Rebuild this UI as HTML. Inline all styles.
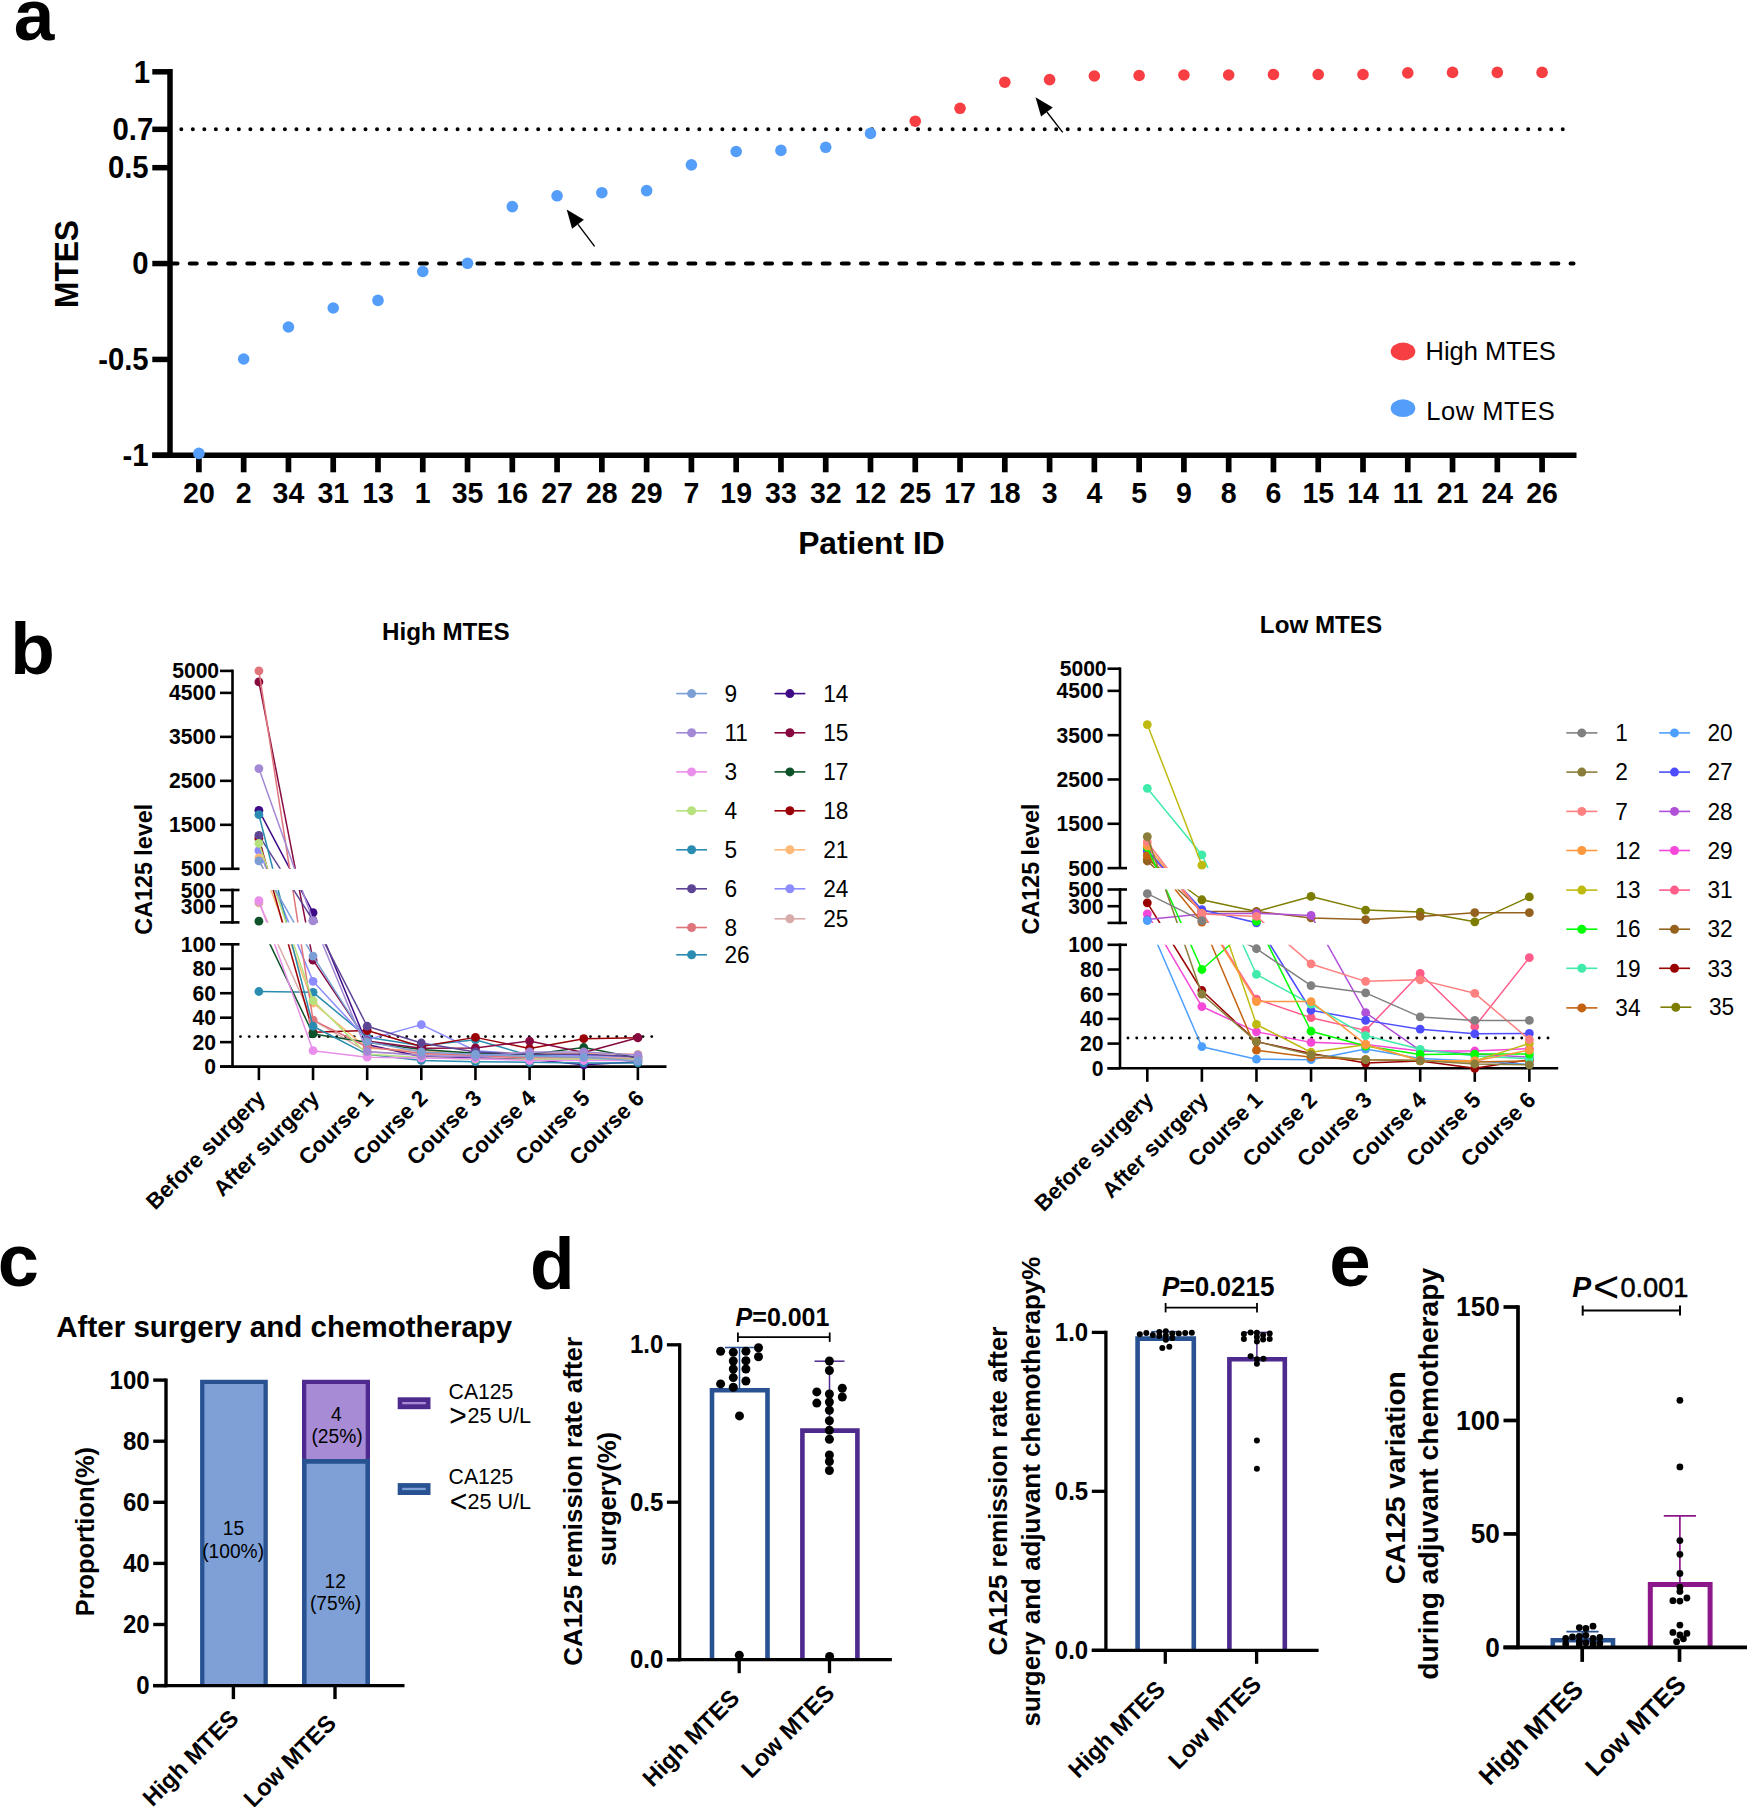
<!DOCTYPE html>
<html lang="en">
<head>
<meta charset="utf-8">
<title>MTES figure</title>
<style>
html,body{margin:0;padding:0;background:#fff;}
body{width:1747px;height:1807px;overflow:hidden;}
svg{display:block;font-family:"Liberation Sans",Arial,Helvetica,sans-serif;}
</style>
</head>
<body>
<svg width="1747" height="1807" viewBox="0 0 1747 1807">
<rect x="0" y="0" width="1747" height="1807" fill="#ffffff"/>
<g id="panel-a">
<text transform="translate(13.7 39.6) scale(1 1)" font-size="73" font-weight="bold" text-anchor="start" fill="#000">a</text>
<line x1="170" y1="69.1" x2="170" y2="458.05" stroke="#000" stroke-width="5.5"/>
<line x1="152.3" y1="455.3" x2="1576.5" y2="455.3" stroke="#000" stroke-width="5.5"/>
<line x1="152.3" y1="71.8" x2="170" y2="71.8" stroke="#000" stroke-width="5.5"/>
<text transform="translate(150 82.5) scale(1 1.04)" font-size="29.3" font-weight="bold" text-anchor="end" fill="#000">1</text>
<line x1="152.3" y1="129.33" x2="170" y2="129.33" stroke="#000" stroke-width="5.5"/>
<text transform="translate(153.2 140.03) scale(1 1.04)" font-size="29.3" font-weight="bold" text-anchor="end" fill="#000">0.7</text>
<line x1="152.3" y1="167.68" x2="170" y2="167.68" stroke="#000" stroke-width="5.5"/>
<text transform="translate(148.6 178.38) scale(1 1.04)" font-size="29.3" font-weight="bold" text-anchor="end" fill="#000">0.5</text>
<line x1="152.3" y1="263.55" x2="170" y2="263.55" stroke="#000" stroke-width="5.5"/>
<text transform="translate(148.6 274.25) scale(1 1.04)" font-size="29.3" font-weight="bold" text-anchor="end" fill="#000">0</text>
<line x1="152.3" y1="359.43" x2="170" y2="359.43" stroke="#000" stroke-width="5.5"/>
<text transform="translate(148.6 370.12) scale(1 1.04)" font-size="29.3" font-weight="bold" text-anchor="end" fill="#000">-0.5</text>
<line x1="152.3" y1="455.3" x2="170" y2="455.3" stroke="#000" stroke-width="5.5"/>
<text transform="translate(148.6 466) scale(1 1.04)" font-size="29.3" font-weight="bold" text-anchor="end" fill="#000">-1</text>
<line x1="181.3" y1="129.33" x2="1566.5" y2="129.33" stroke="#000" stroke-width="4" stroke-dasharray="0 11.512" stroke-linecap="round"/>
<line x1="170.62" y1="263.55" x2="1573.5" y2="263.55" stroke="#000" stroke-width="4.1" stroke-dasharray="6.9 12.278" stroke-linecap="round"/>
<line x1="198.9" y1="455.3" x2="198.9" y2="472.3" stroke="#000" stroke-width="5.7"/>
<text transform="translate(198.9 502.6) scale(1 1.04)" font-size="28.5" font-weight="bold" text-anchor="middle" fill="#000">20</text>
<line x1="243.67" y1="455.3" x2="243.67" y2="472.3" stroke="#000" stroke-width="5.7"/>
<text transform="translate(243.67 502.6) scale(1 1.04)" font-size="28.5" font-weight="bold" text-anchor="middle" fill="#000">2</text>
<line x1="288.45" y1="455.3" x2="288.45" y2="472.3" stroke="#000" stroke-width="5.7"/>
<text transform="translate(288.45 502.6) scale(1 1.04)" font-size="28.5" font-weight="bold" text-anchor="middle" fill="#000">34</text>
<line x1="333.22" y1="455.3" x2="333.22" y2="472.3" stroke="#000" stroke-width="5.7"/>
<text transform="translate(333.22 502.6) scale(1 1.04)" font-size="28.5" font-weight="bold" text-anchor="middle" fill="#000">31</text>
<line x1="377.99" y1="455.3" x2="377.99" y2="472.3" stroke="#000" stroke-width="5.7"/>
<text transform="translate(377.99 502.6) scale(1 1.04)" font-size="28.5" font-weight="bold" text-anchor="middle" fill="#000">13</text>
<line x1="422.76" y1="455.3" x2="422.76" y2="472.3" stroke="#000" stroke-width="5.7"/>
<text transform="translate(422.76 502.6) scale(1 1.04)" font-size="28.5" font-weight="bold" text-anchor="middle" fill="#000">1</text>
<line x1="467.54" y1="455.3" x2="467.54" y2="472.3" stroke="#000" stroke-width="5.7"/>
<text transform="translate(467.54 502.6) scale(1 1.04)" font-size="28.5" font-weight="bold" text-anchor="middle" fill="#000">35</text>
<line x1="512.31" y1="455.3" x2="512.31" y2="472.3" stroke="#000" stroke-width="5.7"/>
<text transform="translate(512.31 502.6) scale(1 1.04)" font-size="28.5" font-weight="bold" text-anchor="middle" fill="#000">16</text>
<line x1="557.08" y1="455.3" x2="557.08" y2="472.3" stroke="#000" stroke-width="5.7"/>
<text transform="translate(557.08 502.6) scale(1 1.04)" font-size="28.5" font-weight="bold" text-anchor="middle" fill="#000">27</text>
<line x1="601.86" y1="455.3" x2="601.86" y2="472.3" stroke="#000" stroke-width="5.7"/>
<text transform="translate(601.86 502.6) scale(1 1.04)" font-size="28.5" font-weight="bold" text-anchor="middle" fill="#000">28</text>
<line x1="646.63" y1="455.3" x2="646.63" y2="472.3" stroke="#000" stroke-width="5.7"/>
<text transform="translate(646.63 502.6) scale(1 1.04)" font-size="28.5" font-weight="bold" text-anchor="middle" fill="#000">29</text>
<line x1="691.4" y1="455.3" x2="691.4" y2="472.3" stroke="#000" stroke-width="5.7"/>
<text transform="translate(691.4 502.6) scale(1 1.04)" font-size="28.5" font-weight="bold" text-anchor="middle" fill="#000">7</text>
<line x1="736.18" y1="455.3" x2="736.18" y2="472.3" stroke="#000" stroke-width="5.7"/>
<text transform="translate(736.18 502.6) scale(1 1.04)" font-size="28.5" font-weight="bold" text-anchor="middle" fill="#000">19</text>
<line x1="780.95" y1="455.3" x2="780.95" y2="472.3" stroke="#000" stroke-width="5.7"/>
<text transform="translate(780.95 502.6) scale(1 1.04)" font-size="28.5" font-weight="bold" text-anchor="middle" fill="#000">33</text>
<line x1="825.72" y1="455.3" x2="825.72" y2="472.3" stroke="#000" stroke-width="5.7"/>
<text transform="translate(825.72 502.6) scale(1 1.04)" font-size="28.5" font-weight="bold" text-anchor="middle" fill="#000">32</text>
<line x1="870.5" y1="455.3" x2="870.5" y2="472.3" stroke="#000" stroke-width="5.7"/>
<text transform="translate(870.5 502.6) scale(1 1.04)" font-size="28.5" font-weight="bold" text-anchor="middle" fill="#000">12</text>
<line x1="915.27" y1="455.3" x2="915.27" y2="472.3" stroke="#000" stroke-width="5.7"/>
<text transform="translate(915.27 502.6) scale(1 1.04)" font-size="28.5" font-weight="bold" text-anchor="middle" fill="#000">25</text>
<line x1="960.04" y1="455.3" x2="960.04" y2="472.3" stroke="#000" stroke-width="5.7"/>
<text transform="translate(960.04 502.6) scale(1 1.04)" font-size="28.5" font-weight="bold" text-anchor="middle" fill="#000">17</text>
<line x1="1004.81" y1="455.3" x2="1004.81" y2="472.3" stroke="#000" stroke-width="5.7"/>
<text transform="translate(1004.81 502.6) scale(1 1.04)" font-size="28.5" font-weight="bold" text-anchor="middle" fill="#000">18</text>
<line x1="1049.59" y1="455.3" x2="1049.59" y2="472.3" stroke="#000" stroke-width="5.7"/>
<text transform="translate(1049.59 502.6) scale(1 1.04)" font-size="28.5" font-weight="bold" text-anchor="middle" fill="#000">3</text>
<line x1="1094.36" y1="455.3" x2="1094.36" y2="472.3" stroke="#000" stroke-width="5.7"/>
<text transform="translate(1094.36 502.6) scale(1 1.04)" font-size="28.5" font-weight="bold" text-anchor="middle" fill="#000">4</text>
<line x1="1139.13" y1="455.3" x2="1139.13" y2="472.3" stroke="#000" stroke-width="5.7"/>
<text transform="translate(1139.13 502.6) scale(1 1.04)" font-size="28.5" font-weight="bold" text-anchor="middle" fill="#000">5</text>
<line x1="1183.91" y1="455.3" x2="1183.91" y2="472.3" stroke="#000" stroke-width="5.7"/>
<text transform="translate(1183.91 502.6) scale(1 1.04)" font-size="28.5" font-weight="bold" text-anchor="middle" fill="#000">9</text>
<line x1="1228.68" y1="455.3" x2="1228.68" y2="472.3" stroke="#000" stroke-width="5.7"/>
<text transform="translate(1228.68 502.6) scale(1 1.04)" font-size="28.5" font-weight="bold" text-anchor="middle" fill="#000">8</text>
<line x1="1273.45" y1="455.3" x2="1273.45" y2="472.3" stroke="#000" stroke-width="5.7"/>
<text transform="translate(1273.45 502.6) scale(1 1.04)" font-size="28.5" font-weight="bold" text-anchor="middle" fill="#000">6</text>
<line x1="1318.23" y1="455.3" x2="1318.23" y2="472.3" stroke="#000" stroke-width="5.7"/>
<text transform="translate(1318.23 502.6) scale(1 1.04)" font-size="28.5" font-weight="bold" text-anchor="middle" fill="#000">15</text>
<line x1="1363" y1="455.3" x2="1363" y2="472.3" stroke="#000" stroke-width="5.7"/>
<text transform="translate(1363 502.6) scale(1 1.04)" font-size="28.5" font-weight="bold" text-anchor="middle" fill="#000">14</text>
<line x1="1407.77" y1="455.3" x2="1407.77" y2="472.3" stroke="#000" stroke-width="5.7"/>
<text transform="translate(1407.77 502.6) scale(1 1.04)" font-size="28.5" font-weight="bold" text-anchor="middle" fill="#000">11</text>
<line x1="1452.54" y1="455.3" x2="1452.54" y2="472.3" stroke="#000" stroke-width="5.7"/>
<text transform="translate(1452.54 502.6) scale(1 1.04)" font-size="28.5" font-weight="bold" text-anchor="middle" fill="#000">21</text>
<line x1="1497.32" y1="455.3" x2="1497.32" y2="472.3" stroke="#000" stroke-width="5.7"/>
<text transform="translate(1497.32 502.6) scale(1 1.04)" font-size="28.5" font-weight="bold" text-anchor="middle" fill="#000">24</text>
<line x1="1542.09" y1="455.3" x2="1542.09" y2="472.3" stroke="#000" stroke-width="5.7"/>
<text transform="translate(1542.09 502.6) scale(1 1.04)" font-size="28.5" font-weight="bold" text-anchor="middle" fill="#000">26</text>
<circle cx="198.9" cy="453.4" r="5.8" fill="#549efa"/>
<circle cx="243.67" cy="359" r="5.8" fill="#549efa"/>
<circle cx="288.45" cy="327" r="5.8" fill="#549efa"/>
<circle cx="333.22" cy="308" r="5.8" fill="#549efa"/>
<circle cx="377.99" cy="300.4" r="5.8" fill="#549efa"/>
<circle cx="422.76" cy="271.5" r="5.8" fill="#549efa"/>
<circle cx="467.54" cy="263.3" r="5.8" fill="#549efa"/>
<circle cx="512.31" cy="206.6" r="5.8" fill="#549efa"/>
<circle cx="557.08" cy="195.8" r="5.8" fill="#549efa"/>
<circle cx="601.86" cy="192.7" r="5.8" fill="#549efa"/>
<circle cx="646.63" cy="190.6" r="5.8" fill="#549efa"/>
<circle cx="691.4" cy="164.9" r="5.8" fill="#549efa"/>
<circle cx="736.18" cy="151.5" r="5.8" fill="#549efa"/>
<circle cx="780.95" cy="150.4" r="5.8" fill="#549efa"/>
<circle cx="825.72" cy="147.3" r="5.8" fill="#549efa"/>
<circle cx="870.5" cy="133.4" r="5.8" fill="#549efa"/>
<circle cx="915.27" cy="121.2" r="5.8" fill="#f73e42"/>
<circle cx="960.04" cy="108.3" r="5.8" fill="#f73e42"/>
<circle cx="1004.81" cy="82.2" r="5.8" fill="#f73e42"/>
<circle cx="1049.59" cy="79.6" r="5.8" fill="#f73e42"/>
<circle cx="1094.36" cy="76" r="5.8" fill="#f73e42"/>
<circle cx="1139.13" cy="75.5" r="5.8" fill="#f73e42"/>
<circle cx="1183.91" cy="75" r="5.8" fill="#f73e42"/>
<circle cx="1228.68" cy="75" r="5.8" fill="#f73e42"/>
<circle cx="1273.45" cy="74.5" r="5.8" fill="#f73e42"/>
<circle cx="1318.23" cy="74.5" r="5.8" fill="#f73e42"/>
<circle cx="1363" cy="74.5" r="5.8" fill="#f73e42"/>
<circle cx="1407.77" cy="72.9" r="5.8" fill="#f73e42"/>
<circle cx="1452.54" cy="72.4" r="5.8" fill="#f73e42"/>
<circle cx="1497.32" cy="72.4" r="5.8" fill="#f73e42"/>
<circle cx="1542.09" cy="72.4" r="5.8" fill="#f73e42"/>
<text transform="translate(871.4 553.9) scale(1 1.01)" font-size="31.8" font-weight="bold" text-anchor="middle" fill="#000">Patient ID</text>
<text transform="translate(77.8 264) rotate(-90) scale(1 1.04)" font-size="31.7" font-weight="bold" text-anchor="middle">MTES</text>
<ellipse cx="1403" cy="351.5" rx="12.3" ry="8.9" fill="#f73e42"/>
<ellipse cx="1403" cy="408.2" rx="12.3" ry="8.9" fill="#549efa"/>
<text transform="translate(1425.5 360.3) scale(1 1.01)" font-size="25.5" font-weight="normal" text-anchor="start" fill="#000">High MTES</text>
<text transform="translate(1426.2 420.1) scale(1 1.01)" font-size="25.5" font-weight="normal" text-anchor="start" fill="#000" textLength="128.6" lengthAdjust="spacing">Low MTES</text>
<line x1="594.6" y1="246.3" x2="577.98" y2="224.32" stroke="#000" stroke-width="1.4"/>
<polygon points="566.7,209.4 583.88,219.85 572.08,228.78" fill="#000"/>
<line x1="1062.7" y1="132.4" x2="1046.93" y2="112" stroke="#000" stroke-width="1.4"/>
<polygon points="1035.5,97.2 1052.79,107.47 1041.08,116.52" fill="#000"/>
</g>
<g id="panel-b">
<text transform="translate(10.3 674.2) scale(1 1)" font-size="73" font-weight="bold" text-anchor="start" fill="#000">b</text>
<defs>
<clipPath id="htmb"><rect x="232.5" y="662.9" width="454" height="205.9"/><rect x="232.5" y="890" width="454" height="32.4"/><rect x="232.5" y="944.3" width="454" height="130.3"/></clipPath>
<clipPath id="htb"><rect x="232.5" y="662.9" width="454" height="205.9"/><rect x="232.5" y="944.3" width="454" height="130.3"/></clipPath>
<clipPath id="htm"><rect x="232.5" y="662.9" width="454" height="205.9"/><rect x="232.5" y="890" width="454" height="32.4"/></clipPath>
<clipPath id="hmb"><rect x="232.5" y="890" width="454" height="32.4"/><rect x="232.5" y="944.3" width="454" height="130.3"/></clipPath>
<clipPath id="ht"><rect x="232.5" y="662.9" width="454" height="205.9"/></clipPath>
<clipPath id="hm"><rect x="232.5" y="890" width="454" height="32.4"/></clipPath>
<clipPath id="hb"><rect x="232.5" y="944.3" width="454" height="130.3"/></clipPath>
</defs>
<text transform="translate(445.8 640.2) scale(1 1.01)" font-size="24.2" font-weight="bold" text-anchor="middle" fill="#000">High MTES</text>
<text transform="translate(151.8 869.25) rotate(-90) scale(1 1.01)" font-size="23.3" font-weight="bold" text-anchor="middle">CA125 level</text>
<line x1="232.5" y1="669.6" x2="232.5" y2="868.8" stroke="#000" stroke-width="2.6"/>
<line x1="232.5" y1="888.7" x2="232.5" y2="923.7" stroke="#000" stroke-width="2.6"/>
<line x1="232.5" y1="943" x2="232.5" y2="1066.6" stroke="#000" stroke-width="2.6"/>
<line x1="220" y1="670.9" x2="232.5" y2="670.9" stroke="#000" stroke-width="2.6"/>
<text transform="translate(219.1 678.4) scale(1 1.04)" font-size="21.1" font-weight="bold" text-anchor="end" fill="#000">5000</text>
<line x1="220" y1="692.89" x2="232.5" y2="692.89" stroke="#000" stroke-width="2.6"/>
<text transform="translate(215.9 700.39) scale(1 1.04)" font-size="21.1" font-weight="bold" text-anchor="end" fill="#000">4500</text>
<line x1="220" y1="736.87" x2="232.5" y2="736.87" stroke="#000" stroke-width="2.6"/>
<text transform="translate(215.9 744.37) scale(1 1.04)" font-size="21.1" font-weight="bold" text-anchor="end" fill="#000">3500</text>
<line x1="220" y1="780.84" x2="232.5" y2="780.84" stroke="#000" stroke-width="2.6"/>
<text transform="translate(215.9 788.34) scale(1 1.04)" font-size="21.1" font-weight="bold" text-anchor="end" fill="#000">2500</text>
<line x1="220" y1="824.82" x2="232.5" y2="824.82" stroke="#000" stroke-width="2.6"/>
<text transform="translate(215.9 832.32) scale(1 1.04)" font-size="21.1" font-weight="bold" text-anchor="end" fill="#000">1500</text>
<line x1="220" y1="868.8" x2="239.5" y2="868.8" stroke="#000" stroke-width="2.6"/>
<text transform="translate(215.9 876.3) scale(1 1.04)" font-size="21.1" font-weight="bold" text-anchor="end" fill="#000">500</text>
<line x1="220" y1="890" x2="239.5" y2="890" stroke="#000" stroke-width="2.6"/>
<text transform="translate(215.9 897.5) scale(1 1.04)" font-size="21.1" font-weight="bold" text-anchor="end" fill="#000">500</text>
<line x1="220" y1="906.2" x2="232.5" y2="906.2" stroke="#000" stroke-width="2.6"/>
<text transform="translate(215.9 913.7) scale(1 1.04)" font-size="21.1" font-weight="bold" text-anchor="end" fill="#000">300</text>
<line x1="220" y1="922.4" x2="239.5" y2="922.4" stroke="#000" stroke-width="2.6"/>
<line x1="220" y1="944.3" x2="239.5" y2="944.3" stroke="#000" stroke-width="2.6"/>
<text transform="translate(215.9 951.8) scale(1 1.04)" font-size="21.1" font-weight="bold" text-anchor="end" fill="#000">100</text>
<line x1="220" y1="968.76" x2="232.5" y2="968.76" stroke="#000" stroke-width="2.6"/>
<text transform="translate(215.9 976.26) scale(1 1.04)" font-size="21.1" font-weight="bold" text-anchor="end" fill="#000">80</text>
<line x1="220" y1="993.22" x2="232.5" y2="993.22" stroke="#000" stroke-width="2.6"/>
<text transform="translate(215.9 1000.72) scale(1 1.04)" font-size="21.1" font-weight="bold" text-anchor="end" fill="#000">60</text>
<line x1="220" y1="1017.68" x2="232.5" y2="1017.68" stroke="#000" stroke-width="2.6"/>
<text transform="translate(215.9 1025.18) scale(1 1.04)" font-size="21.1" font-weight="bold" text-anchor="end" fill="#000">40</text>
<line x1="220" y1="1042.14" x2="232.5" y2="1042.14" stroke="#000" stroke-width="2.6"/>
<text transform="translate(215.9 1049.64) scale(1 1.04)" font-size="21.1" font-weight="bold" text-anchor="end" fill="#000">20</text>
<line x1="220" y1="1066.6" x2="232.5" y2="1066.6" stroke="#000" stroke-width="2.6"/>
<text transform="translate(215.9 1074.1) scale(1 1.04)" font-size="21.1" font-weight="bold" text-anchor="end" fill="#000">0</text>
<line x1="220" y1="1066.6" x2="666.5" y2="1066.6" stroke="#000" stroke-width="2.6"/>
<line x1="258.9" y1="1066.6" x2="258.9" y2="1080.1" stroke="#000" stroke-width="2.6"/>
<text transform="translate(266.4 1099.6) rotate(-45) scale(1 1.01)" font-size="22.1" font-weight="bold" text-anchor="end">Before surgery</text>
<line x1="313.04" y1="1066.6" x2="313.04" y2="1080.1" stroke="#000" stroke-width="2.6"/>
<text transform="translate(320.54 1099.6) rotate(-45) scale(1 1.01)" font-size="22.1" font-weight="bold" text-anchor="end">After surgery</text>
<line x1="367.18" y1="1066.6" x2="367.18" y2="1080.1" stroke="#000" stroke-width="2.6"/>
<text transform="translate(374.68 1099.6) rotate(-45) scale(1 1.01)" font-size="22.1" font-weight="bold" text-anchor="end">Course 1</text>
<line x1="421.32" y1="1066.6" x2="421.32" y2="1080.1" stroke="#000" stroke-width="2.6"/>
<text transform="translate(428.82 1099.6) rotate(-45) scale(1 1.01)" font-size="22.1" font-weight="bold" text-anchor="end">Course 2</text>
<line x1="475.46" y1="1066.6" x2="475.46" y2="1080.1" stroke="#000" stroke-width="2.6"/>
<text transform="translate(482.96 1099.6) rotate(-45) scale(1 1.01)" font-size="22.1" font-weight="bold" text-anchor="end">Course 3</text>
<line x1="529.6" y1="1066.6" x2="529.6" y2="1080.1" stroke="#000" stroke-width="2.6"/>
<text transform="translate(537.1 1099.6) rotate(-45) scale(1 1.01)" font-size="22.1" font-weight="bold" text-anchor="end">Course 4</text>
<line x1="583.74" y1="1066.6" x2="583.74" y2="1080.1" stroke="#000" stroke-width="2.6"/>
<text transform="translate(591.24 1099.6) rotate(-45) scale(1 1.01)" font-size="22.1" font-weight="bold" text-anchor="end">Course 5</text>
<line x1="637.88" y1="1066.6" x2="637.88" y2="1080.1" stroke="#000" stroke-width="2.6"/>
<text transform="translate(645.38 1099.6) rotate(-45) scale(1 1.01)" font-size="22.1" font-weight="bold" text-anchor="end">Course 6</text>
<line x1="240.5" y1="1036.62" x2="659" y2="1036.62" stroke="#000" stroke-width="2.9" stroke-dasharray="0 8.75" stroke-linecap="round"/>
<polyline clip-path="url(#htmb)" points="258.9,991.51 313.04,992.36" fill="none" stroke="#2a8cb0" stroke-width="1.5" stroke-linejoin="round"/>
<polyline clip-path="url(#hb)" points="313.04,992.36 367.18,1037.25 421.32,1045.81 475.46,1039.69 529.6,1055.59 583.74,1056.82 637.88,1059.26" fill="none" stroke="#2a8cb0" stroke-width="1.5" stroke-linejoin="round"/>
<circle cx="258.9" cy="991.51" r="4.4" fill="#2a8cb0"/>
<circle cx="313.04" cy="992.36" r="4.4" fill="#2a8cb0"/>
<circle cx="367.18" cy="1037.25" r="4.4" fill="#2a8cb0"/>
<circle cx="421.32" cy="1045.81" r="4.4" fill="#2a8cb0"/>
<circle cx="475.46" cy="1039.69" r="4.4" fill="#2a8cb0"/>
<circle cx="529.6" cy="1055.59" r="4.4" fill="#2a8cb0"/>
<circle cx="583.74" cy="1056.82" r="4.4" fill="#2a8cb0"/>
<circle cx="637.88" cy="1059.26" r="4.4" fill="#2a8cb0"/>
<polyline clip-path="url(#htmb)" points="258.9,902.96 313.04,1020.13" fill="none" stroke="#d9aaaa" stroke-width="1.5" stroke-linejoin="round"/>
<polyline clip-path="url(#hb)" points="313.04,1020.13 367.18,1051.92 421.32,1054.37 475.46,1055.59 529.6,1056.82 583.74,1056.82 637.88,1058.04" fill="none" stroke="#d9aaaa" stroke-width="1.5" stroke-linejoin="round"/>
<circle cx="258.9" cy="902.96" r="4.4" fill="#d9aaaa"/>
<circle cx="313.04" cy="1020.13" r="4.4" fill="#d9aaaa"/>
<circle cx="367.18" cy="1051.92" r="4.4" fill="#d9aaaa"/>
<circle cx="421.32" cy="1054.37" r="4.4" fill="#d9aaaa"/>
<circle cx="475.46" cy="1055.59" r="4.4" fill="#d9aaaa"/>
<circle cx="529.6" cy="1056.82" r="4.4" fill="#d9aaaa"/>
<circle cx="583.74" cy="1056.82" r="4.4" fill="#d9aaaa"/>
<circle cx="637.88" cy="1058.04" r="4.4" fill="#d9aaaa"/>
<polyline clip-path="url(#htmb)" points="258.9,850.55 313.04,981.36" fill="none" stroke="#8c8cff" stroke-width="1.5" stroke-linejoin="round"/>
<polyline clip-path="url(#hb)" points="313.04,981.36 367.18,1039.69 421.32,1024.65 475.46,1050.7 529.6,1054.37 583.74,1055.59 637.88,1056.82" fill="none" stroke="#8c8cff" stroke-width="1.5" stroke-linejoin="round"/>
<circle cx="258.9" cy="850.55" r="4.4" fill="#8c8cff"/>
<circle cx="313.04" cy="981.36" r="4.4" fill="#8c8cff"/>
<circle cx="367.18" cy="1039.69" r="4.4" fill="#8c8cff"/>
<circle cx="421.32" cy="1024.65" r="4.4" fill="#8c8cff"/>
<circle cx="475.46" cy="1050.7" r="4.4" fill="#8c8cff"/>
<circle cx="529.6" cy="1054.37" r="4.4" fill="#8c8cff"/>
<circle cx="583.74" cy="1055.59" r="4.4" fill="#8c8cff"/>
<circle cx="637.88" cy="1056.82" r="4.4" fill="#8c8cff"/>
<polyline clip-path="url(#htmb)" points="258.9,857.81 313.04,1003" fill="none" stroke="#ffb976" stroke-width="1.5" stroke-linejoin="round"/>
<polyline clip-path="url(#hb)" points="313.04,1003 367.18,1048.25 421.32,1050.7 475.46,1053.15 529.6,1053.15 583.74,1053.15 637.88,1054.37" fill="none" stroke="#ffb976" stroke-width="1.5" stroke-linejoin="round"/>
<circle cx="258.9" cy="857.81" r="4.4" fill="#ffb976"/>
<circle cx="313.04" cy="1003" r="4.4" fill="#ffb976"/>
<circle cx="367.18" cy="1048.25" r="4.4" fill="#ffb976"/>
<circle cx="421.32" cy="1050.7" r="4.4" fill="#ffb976"/>
<circle cx="475.46" cy="1053.15" r="4.4" fill="#ffb976"/>
<circle cx="529.6" cy="1053.15" r="4.4" fill="#ffb976"/>
<circle cx="583.74" cy="1053.15" r="4.4" fill="#ffb976"/>
<circle cx="637.88" cy="1054.37" r="4.4" fill="#ffb976"/>
<polyline clip-path="url(#htmb)" points="258.9,838.46 313.04,1032.36" fill="none" stroke="#9a0008" stroke-width="1.5" stroke-linejoin="round"/>
<polyline clip-path="url(#hb)" points="313.04,1032.36 367.18,1030.52 421.32,1046.54 475.46,1037.37 529.6,1048.5 583.74,1038.72 637.88,1037.74" fill="none" stroke="#9a0008" stroke-width="1.5" stroke-linejoin="round"/>
<circle cx="258.9" cy="838.46" r="4.4" fill="#9a0008"/>
<circle cx="313.04" cy="1032.36" r="4.4" fill="#9a0008"/>
<circle cx="367.18" cy="1030.52" r="4.4" fill="#9a0008"/>
<circle cx="421.32" cy="1046.54" r="4.4" fill="#9a0008"/>
<circle cx="475.46" cy="1037.37" r="4.4" fill="#9a0008"/>
<circle cx="529.6" cy="1048.5" r="4.4" fill="#9a0008"/>
<circle cx="583.74" cy="1038.72" r="4.4" fill="#9a0008"/>
<circle cx="637.88" cy="1037.74" r="4.4" fill="#9a0008"/>
<polyline clip-path="url(#htmb)" points="258.9,921.18 313.04,1033.95" fill="none" stroke="#0e5229" stroke-width="1.5" stroke-linejoin="round"/>
<polyline clip-path="url(#hb)" points="313.04,1033.95 367.18,1042.14 421.32,1049.48 475.46,1053.15 529.6,1054.37 583.74,1047.52 637.88,1058.04" fill="none" stroke="#0e5229" stroke-width="1.5" stroke-linejoin="round"/>
<circle cx="258.9" cy="921.18" r="4.4" fill="#0e5229"/>
<circle cx="313.04" cy="1033.95" r="4.4" fill="#0e5229"/>
<circle cx="367.18" cy="1042.14" r="4.4" fill="#0e5229"/>
<circle cx="421.32" cy="1049.48" r="4.4" fill="#0e5229"/>
<circle cx="475.46" cy="1053.15" r="4.4" fill="#0e5229"/>
<circle cx="529.6" cy="1054.37" r="4.4" fill="#0e5229"/>
<circle cx="583.74" cy="1047.52" r="4.4" fill="#0e5229"/>
<circle cx="637.88" cy="1058.04" r="4.4" fill="#0e5229"/>
<polyline clip-path="url(#htmb)" points="258.9,681.89 313.04,960.2" fill="none" stroke="#860a40" stroke-width="1.5" stroke-linejoin="round"/>
<polyline clip-path="url(#hb)" points="313.04,960.2 367.18,1040.92 421.32,1048.25 475.46,1047.89 529.6,1041.04 583.74,1052.41 637.88,1037.74" fill="none" stroke="#860a40" stroke-width="1.5" stroke-linejoin="round"/>
<circle cx="258.9" cy="681.89" r="4.4" fill="#860a40"/>
<circle cx="313.04" cy="960.2" r="4.4" fill="#860a40"/>
<circle cx="367.18" cy="1040.92" r="4.4" fill="#860a40"/>
<circle cx="421.32" cy="1048.25" r="4.4" fill="#860a40"/>
<circle cx="475.46" cy="1047.89" r="4.4" fill="#860a40"/>
<circle cx="529.6" cy="1041.04" r="4.4" fill="#860a40"/>
<circle cx="583.74" cy="1052.41" r="4.4" fill="#860a40"/>
<circle cx="637.88" cy="1037.74" r="4.4" fill="#860a40"/>
<polyline clip-path="url(#htmb)" points="258.9,810.31 313.04,912.68" fill="none" stroke="#3f0a86" stroke-width="1.5" stroke-linejoin="round"/>
<polyline clip-path="url(#hmb)" points="313.04,912.68 367.18,1044.59" fill="none" stroke="#3f0a86" stroke-width="1.5" stroke-linejoin="round"/>
<polyline clip-path="url(#hb)" points="367.18,1044.59 421.32,1056.82 475.46,1058.04 529.6,1059.26 583.74,1064.77 637.88,1061.71" fill="none" stroke="#3f0a86" stroke-width="1.5" stroke-linejoin="round"/>
<circle cx="258.9" cy="810.31" r="4.4" fill="#3f0a86"/>
<circle cx="313.04" cy="912.68" r="4.4" fill="#3f0a86"/>
<circle cx="367.18" cy="1044.59" r="4.4" fill="#3f0a86"/>
<circle cx="421.32" cy="1056.82" r="4.4" fill="#3f0a86"/>
<circle cx="475.46" cy="1058.04" r="4.4" fill="#3f0a86"/>
<circle cx="529.6" cy="1059.26" r="4.4" fill="#3f0a86"/>
<circle cx="583.74" cy="1064.77" r="4.4" fill="#3f0a86"/>
<circle cx="637.88" cy="1061.71" r="4.4" fill="#3f0a86"/>
<polyline clip-path="url(#htmb)" points="258.9,670.9 313.04,1020.13" fill="none" stroke="#e0747b" stroke-width="1.5" stroke-linejoin="round"/>
<polyline clip-path="url(#hb)" points="313.04,1020.13 367.18,1047.03 421.32,1053.15 475.46,1055.59 529.6,1058.04 583.74,1058.04 637.88,1059.26" fill="none" stroke="#e0747b" stroke-width="1.5" stroke-linejoin="round"/>
<circle cx="258.9" cy="670.9" r="4.4" fill="#e0747b"/>
<circle cx="313.04" cy="1020.13" r="4.4" fill="#e0747b"/>
<circle cx="367.18" cy="1047.03" r="4.4" fill="#e0747b"/>
<circle cx="421.32" cy="1053.15" r="4.4" fill="#e0747b"/>
<circle cx="475.46" cy="1055.59" r="4.4" fill="#e0747b"/>
<circle cx="529.6" cy="1058.04" r="4.4" fill="#e0747b"/>
<circle cx="583.74" cy="1058.04" r="4.4" fill="#e0747b"/>
<circle cx="637.88" cy="1059.26" r="4.4" fill="#e0747b"/>
<polyline clip-path="url(#htmb)" points="258.9,835.38 313.04,920.38" fill="none" stroke="#5e4495" stroke-width="1.5" stroke-linejoin="round"/>
<polyline clip-path="url(#hmb)" points="313.04,920.38 367.18,1026.24" fill="none" stroke="#5e4495" stroke-width="1.5" stroke-linejoin="round"/>
<polyline clip-path="url(#hb)" points="367.18,1026.24 421.32,1043 475.46,1051.92 529.6,1054.37 583.74,1054.37 637.88,1056.82" fill="none" stroke="#5e4495" stroke-width="1.5" stroke-linejoin="round"/>
<circle cx="258.9" cy="835.38" r="4.4" fill="#5e4495"/>
<circle cx="313.04" cy="920.38" r="4.4" fill="#5e4495"/>
<circle cx="367.18" cy="1026.24" r="4.4" fill="#5e4495"/>
<circle cx="421.32" cy="1043" r="4.4" fill="#5e4495"/>
<circle cx="475.46" cy="1051.92" r="4.4" fill="#5e4495"/>
<circle cx="529.6" cy="1054.37" r="4.4" fill="#5e4495"/>
<circle cx="583.74" cy="1054.37" r="4.4" fill="#5e4495"/>
<circle cx="637.88" cy="1056.82" r="4.4" fill="#5e4495"/>
<polyline clip-path="url(#htmb)" points="258.9,814.71 313.04,1026.24" fill="none" stroke="#2a8cb0" stroke-width="1.5" stroke-linejoin="round"/>
<polyline clip-path="url(#hb)" points="313.04,1026.24 367.18,1054.37 421.32,1060.48 475.46,1061.71 529.6,1062.32 583.74,1062.93 637.88,1062.93" fill="none" stroke="#2a8cb0" stroke-width="1.5" stroke-linejoin="round"/>
<circle cx="258.9" cy="814.71" r="4.4" fill="#2a8cb0"/>
<circle cx="313.04" cy="1026.24" r="4.4" fill="#2a8cb0"/>
<circle cx="367.18" cy="1054.37" r="4.4" fill="#2a8cb0"/>
<circle cx="421.32" cy="1060.48" r="4.4" fill="#2a8cb0"/>
<circle cx="475.46" cy="1061.71" r="4.4" fill="#2a8cb0"/>
<circle cx="529.6" cy="1062.32" r="4.4" fill="#2a8cb0"/>
<circle cx="583.74" cy="1062.93" r="4.4" fill="#2a8cb0"/>
<circle cx="637.88" cy="1062.93" r="4.4" fill="#2a8cb0"/>
<polyline clip-path="url(#htmb)" points="258.9,843.29 313.04,1000.56" fill="none" stroke="#b6e17d" stroke-width="1.5" stroke-linejoin="round"/>
<polyline clip-path="url(#hb)" points="313.04,1000.56 367.18,1054.37 421.32,1057.43 475.46,1059.26 529.6,1059.26 583.74,1059.26 637.88,1059.26" fill="none" stroke="#b6e17d" stroke-width="1.5" stroke-linejoin="round"/>
<circle cx="258.9" cy="843.29" r="4.4" fill="#b6e17d"/>
<circle cx="313.04" cy="1000.56" r="4.4" fill="#b6e17d"/>
<circle cx="367.18" cy="1054.37" r="4.4" fill="#b6e17d"/>
<circle cx="421.32" cy="1057.43" r="4.4" fill="#b6e17d"/>
<circle cx="475.46" cy="1059.26" r="4.4" fill="#b6e17d"/>
<circle cx="529.6" cy="1059.26" r="4.4" fill="#b6e17d"/>
<circle cx="583.74" cy="1059.26" r="4.4" fill="#b6e17d"/>
<circle cx="637.88" cy="1059.26" r="4.4" fill="#b6e17d"/>
<polyline clip-path="url(#htmb)" points="258.9,900.53 313.04,1050.7" fill="none" stroke="#e98eea" stroke-width="1.5" stroke-linejoin="round"/>
<polyline clip-path="url(#hb)" points="313.04,1050.7 367.18,1057.18 421.32,1058.04 475.46,1058.65 529.6,1060.48 583.74,1060.48 637.88,1060.48" fill="none" stroke="#e98eea" stroke-width="1.5" stroke-linejoin="round"/>
<circle cx="258.9" cy="900.53" r="4.4" fill="#e98eea"/>
<circle cx="313.04" cy="1050.7" r="4.4" fill="#e98eea"/>
<circle cx="367.18" cy="1057.18" r="4.4" fill="#e98eea"/>
<circle cx="421.32" cy="1058.04" r="4.4" fill="#e98eea"/>
<circle cx="475.46" cy="1058.65" r="4.4" fill="#e98eea"/>
<circle cx="529.6" cy="1060.48" r="4.4" fill="#e98eea"/>
<circle cx="583.74" cy="1060.48" r="4.4" fill="#e98eea"/>
<circle cx="637.88" cy="1060.48" r="4.4" fill="#e98eea"/>
<polyline clip-path="url(#htmb)" points="258.9,768.53 313.04,920.78" fill="none" stroke="#a388d6" stroke-width="1.5" stroke-linejoin="round"/>
<polyline clip-path="url(#hmb)" points="313.04,920.78 367.18,1051.43" fill="none" stroke="#a388d6" stroke-width="1.5" stroke-linejoin="round"/>
<polyline clip-path="url(#hb)" points="367.18,1051.43 421.32,1055.59 475.46,1056.82 529.6,1051.92 583.74,1051.92 637.88,1054.98" fill="none" stroke="#a388d6" stroke-width="1.5" stroke-linejoin="round"/>
<circle cx="258.9" cy="768.53" r="4.4" fill="#a388d6"/>
<circle cx="313.04" cy="920.78" r="4.4" fill="#a388d6"/>
<circle cx="367.18" cy="1051.43" r="4.4" fill="#a388d6"/>
<circle cx="421.32" cy="1055.59" r="4.4" fill="#a388d6"/>
<circle cx="475.46" cy="1056.82" r="4.4" fill="#a388d6"/>
<circle cx="529.6" cy="1051.92" r="4.4" fill="#a388d6"/>
<circle cx="583.74" cy="1051.92" r="4.4" fill="#a388d6"/>
<circle cx="637.88" cy="1054.98" r="4.4" fill="#a388d6"/>
<polyline clip-path="url(#htmb)" points="258.9,860.88 313.04,956.04" fill="none" stroke="#7b9fd5" stroke-width="1.5" stroke-linejoin="round"/>
<polyline clip-path="url(#hb)" points="313.04,956.04 367.18,1041.65 421.32,1051.92 475.46,1054.37 529.6,1056.33 583.74,1057.31 637.88,1061.1" fill="none" stroke="#7b9fd5" stroke-width="1.5" stroke-linejoin="round"/>
<circle cx="258.9" cy="860.88" r="4.4" fill="#7b9fd5"/>
<circle cx="313.04" cy="956.04" r="4.4" fill="#7b9fd5"/>
<circle cx="367.18" cy="1041.65" r="4.4" fill="#7b9fd5"/>
<circle cx="421.32" cy="1051.92" r="4.4" fill="#7b9fd5"/>
<circle cx="475.46" cy="1054.37" r="4.4" fill="#7b9fd5"/>
<circle cx="529.6" cy="1056.33" r="4.4" fill="#7b9fd5"/>
<circle cx="583.74" cy="1057.31" r="4.4" fill="#7b9fd5"/>
<circle cx="637.88" cy="1061.1" r="4.4" fill="#7b9fd5"/>
<line x1="676.2" y1="693.6" x2="707" y2="693.6" stroke="#7b9fd5" stroke-width="1.6"/>
<circle cx="691.6" cy="693.6" r="4.5" fill="#7b9fd5"/>
<text transform="translate(724.4 701.8) scale(1 1.04)" font-size="22.7" font-weight="normal" text-anchor="start" fill="#000">9</text>
<line x1="676.2" y1="732.8" x2="707" y2="732.8" stroke="#a388d6" stroke-width="1.6"/>
<circle cx="691.6" cy="732.8" r="4.5" fill="#a388d6"/>
<text transform="translate(724.4 741) scale(1 1.04)" font-size="22.7" font-weight="normal" text-anchor="start" fill="#000">11</text>
<line x1="676.2" y1="771.9" x2="707" y2="771.9" stroke="#e98eea" stroke-width="1.6"/>
<circle cx="691.6" cy="771.9" r="4.5" fill="#e98eea"/>
<text transform="translate(724.4 780.1) scale(1 1.04)" font-size="22.7" font-weight="normal" text-anchor="start" fill="#000">3</text>
<line x1="676.2" y1="810.8" x2="707" y2="810.8" stroke="#b6e17d" stroke-width="1.6"/>
<circle cx="691.6" cy="810.8" r="4.5" fill="#b6e17d"/>
<text transform="translate(724.4 819) scale(1 1.04)" font-size="22.7" font-weight="normal" text-anchor="start" fill="#000">4</text>
<line x1="676.2" y1="849.8" x2="707" y2="849.8" stroke="#2a8cb0" stroke-width="1.6"/>
<circle cx="691.6" cy="849.8" r="4.5" fill="#2a8cb0"/>
<text transform="translate(724.4 858) scale(1 1.04)" font-size="22.7" font-weight="normal" text-anchor="start" fill="#000">5</text>
<line x1="676.2" y1="888.8" x2="707" y2="888.8" stroke="#5e4495" stroke-width="1.6"/>
<circle cx="691.6" cy="888.8" r="4.5" fill="#5e4495"/>
<text transform="translate(724.4 897) scale(1 1.04)" font-size="22.7" font-weight="normal" text-anchor="start" fill="#000">6</text>
<line x1="676.2" y1="927.5" x2="707" y2="927.5" stroke="#e0747b" stroke-width="1.6"/>
<circle cx="691.6" cy="927.5" r="4.5" fill="#e0747b"/>
<text transform="translate(724.4 935.7) scale(1 1.04)" font-size="22.7" font-weight="normal" text-anchor="start" fill="#000">8</text>
<line x1="676.2" y1="954.8" x2="707" y2="954.8" stroke="#2a8cb0" stroke-width="1.6"/>
<circle cx="691.6" cy="954.8" r="4.5" fill="#2a8cb0"/>
<text transform="translate(724.4 963) scale(1 1.04)" font-size="22.7" font-weight="normal" text-anchor="start" fill="#000">26</text>
<line x1="774.5" y1="693.6" x2="805.3" y2="693.6" stroke="#3f0a86" stroke-width="1.6"/>
<circle cx="789.9" cy="693.6" r="4.5" fill="#3f0a86"/>
<text transform="translate(823.2 701.8) scale(1 1.04)" font-size="22.7" font-weight="normal" text-anchor="start" fill="#000">14</text>
<line x1="774.5" y1="732.8" x2="805.3" y2="732.8" stroke="#860a40" stroke-width="1.6"/>
<circle cx="789.9" cy="732.8" r="4.5" fill="#860a40"/>
<text transform="translate(823.2 741) scale(1 1.04)" font-size="22.7" font-weight="normal" text-anchor="start" fill="#000">15</text>
<line x1="774.5" y1="771.9" x2="805.3" y2="771.9" stroke="#0e5229" stroke-width="1.6"/>
<circle cx="789.9" cy="771.9" r="4.5" fill="#0e5229"/>
<text transform="translate(823.2 780.1) scale(1 1.04)" font-size="22.7" font-weight="normal" text-anchor="start" fill="#000">17</text>
<line x1="774.5" y1="810.8" x2="805.3" y2="810.8" stroke="#9a0008" stroke-width="1.6"/>
<circle cx="789.9" cy="810.8" r="4.5" fill="#9a0008"/>
<text transform="translate(823.2 819) scale(1 1.04)" font-size="22.7" font-weight="normal" text-anchor="start" fill="#000">18</text>
<line x1="774.5" y1="849.8" x2="805.3" y2="849.8" stroke="#ffb976" stroke-width="1.6"/>
<circle cx="789.9" cy="849.8" r="4.5" fill="#ffb976"/>
<text transform="translate(823.2 858) scale(1 1.04)" font-size="22.7" font-weight="normal" text-anchor="start" fill="#000">21</text>
<line x1="774.5" y1="888.8" x2="805.3" y2="888.8" stroke="#8c8cff" stroke-width="1.6"/>
<circle cx="789.9" cy="888.8" r="4.5" fill="#8c8cff"/>
<text transform="translate(823.2 897) scale(1 1.04)" font-size="22.7" font-weight="normal" text-anchor="start" fill="#000">24</text>
<line x1="774.5" y1="918.8" x2="805.3" y2="918.8" stroke="#d9aaaa" stroke-width="1.6"/>
<circle cx="789.9" cy="918.8" r="4.5" fill="#d9aaaa"/>
<text transform="translate(823.2 927) scale(1 1.04)" font-size="22.7" font-weight="normal" text-anchor="start" fill="#000">25</text>
<defs>
<clipPath id="ltmb"><rect x="1120" y="660.7" width="458.2" height="207.4"/><rect x="1120" y="889.5" width="458.2" height="33.4"/><rect x="1120" y="944.8" width="458.2" height="131.5"/></clipPath>
<clipPath id="ltb"><rect x="1120" y="660.7" width="458.2" height="207.4"/><rect x="1120" y="944.8" width="458.2" height="131.5"/></clipPath>
<clipPath id="ltm"><rect x="1120" y="660.7" width="458.2" height="207.4"/><rect x="1120" y="889.5" width="458.2" height="33.4"/></clipPath>
<clipPath id="lmb"><rect x="1120" y="889.5" width="458.2" height="33.4"/><rect x="1120" y="944.8" width="458.2" height="131.5"/></clipPath>
<clipPath id="lt"><rect x="1120" y="660.7" width="458.2" height="207.4"/></clipPath>
<clipPath id="lm"><rect x="1120" y="889.5" width="458.2" height="33.4"/></clipPath>
<clipPath id="lb"><rect x="1120" y="944.8" width="458.2" height="131.5"/></clipPath>
</defs>
<text transform="translate(1321 633.3) scale(1 1.01)" font-size="24.2" font-weight="bold" text-anchor="middle" fill="#000">Low MTES</text>
<text transform="translate(1038.5 869) rotate(-90) scale(1 1.01)" font-size="23.3" font-weight="bold" text-anchor="middle">CA125 level</text>
<line x1="1120" y1="667.4" x2="1120" y2="868.1" stroke="#000" stroke-width="2.6"/>
<line x1="1120" y1="888.2" x2="1120" y2="924.2" stroke="#000" stroke-width="2.6"/>
<line x1="1120" y1="943.5" x2="1120" y2="1068.3" stroke="#000" stroke-width="2.6"/>
<line x1="1107.5" y1="668.7" x2="1120" y2="668.7" stroke="#000" stroke-width="2.6"/>
<text transform="translate(1106.6 676.2) scale(1 1.04)" font-size="21.1" font-weight="bold" text-anchor="end" fill="#000">5000</text>
<line x1="1107.5" y1="690.86" x2="1120" y2="690.86" stroke="#000" stroke-width="2.6"/>
<text transform="translate(1103.4 698.36) scale(1 1.04)" font-size="21.1" font-weight="bold" text-anchor="end" fill="#000">4500</text>
<line x1="1107.5" y1="735.17" x2="1120" y2="735.17" stroke="#000" stroke-width="2.6"/>
<text transform="translate(1103.4 742.67) scale(1 1.04)" font-size="21.1" font-weight="bold" text-anchor="end" fill="#000">3500</text>
<line x1="1107.5" y1="779.48" x2="1120" y2="779.48" stroke="#000" stroke-width="2.6"/>
<text transform="translate(1103.4 786.98) scale(1 1.04)" font-size="21.1" font-weight="bold" text-anchor="end" fill="#000">2500</text>
<line x1="1107.5" y1="823.79" x2="1120" y2="823.79" stroke="#000" stroke-width="2.6"/>
<text transform="translate(1103.4 831.29) scale(1 1.04)" font-size="21.1" font-weight="bold" text-anchor="end" fill="#000">1500</text>
<line x1="1107.5" y1="868.1" x2="1127" y2="868.1" stroke="#000" stroke-width="2.6"/>
<text transform="translate(1103.4 875.6) scale(1 1.04)" font-size="21.1" font-weight="bold" text-anchor="end" fill="#000">500</text>
<line x1="1107.5" y1="889.5" x2="1127" y2="889.5" stroke="#000" stroke-width="2.6"/>
<text transform="translate(1103.4 897) scale(1 1.04)" font-size="21.1" font-weight="bold" text-anchor="end" fill="#000">500</text>
<line x1="1107.5" y1="906.2" x2="1120" y2="906.2" stroke="#000" stroke-width="2.6"/>
<text transform="translate(1103.4 913.7) scale(1 1.04)" font-size="21.1" font-weight="bold" text-anchor="end" fill="#000">300</text>
<line x1="1107.5" y1="922.9" x2="1127" y2="922.9" stroke="#000" stroke-width="2.6"/>
<line x1="1107.5" y1="944.8" x2="1127" y2="944.8" stroke="#000" stroke-width="2.6"/>
<text transform="translate(1103.4 952.3) scale(1 1.04)" font-size="21.1" font-weight="bold" text-anchor="end" fill="#000">100</text>
<line x1="1107.5" y1="969.5" x2="1120" y2="969.5" stroke="#000" stroke-width="2.6"/>
<text transform="translate(1103.4 977) scale(1 1.04)" font-size="21.1" font-weight="bold" text-anchor="end" fill="#000">80</text>
<line x1="1107.5" y1="994.2" x2="1120" y2="994.2" stroke="#000" stroke-width="2.6"/>
<text transform="translate(1103.4 1001.7) scale(1 1.04)" font-size="21.1" font-weight="bold" text-anchor="end" fill="#000">60</text>
<line x1="1107.5" y1="1018.9" x2="1120" y2="1018.9" stroke="#000" stroke-width="2.6"/>
<text transform="translate(1103.4 1026.4) scale(1 1.04)" font-size="21.1" font-weight="bold" text-anchor="end" fill="#000">40</text>
<line x1="1107.5" y1="1043.6" x2="1120" y2="1043.6" stroke="#000" stroke-width="2.6"/>
<text transform="translate(1103.4 1051.1) scale(1 1.04)" font-size="21.1" font-weight="bold" text-anchor="end" fill="#000">20</text>
<line x1="1107.5" y1="1068.3" x2="1120" y2="1068.3" stroke="#000" stroke-width="2.6"/>
<text transform="translate(1103.4 1075.8) scale(1 1.04)" font-size="21.1" font-weight="bold" text-anchor="end" fill="#000">0</text>
<line x1="1107.5" y1="1068.3" x2="1558.2" y2="1068.3" stroke="#000" stroke-width="2.6"/>
<line x1="1147.3" y1="1068.3" x2="1147.3" y2="1081.8" stroke="#000" stroke-width="2.6"/>
<text transform="translate(1154.8 1101.3) rotate(-45) scale(1 1.01)" font-size="22.1" font-weight="bold" text-anchor="end">Before surgery</text>
<line x1="1201.88" y1="1068.3" x2="1201.88" y2="1081.8" stroke="#000" stroke-width="2.6"/>
<text transform="translate(1209.38 1101.3) rotate(-45) scale(1 1.01)" font-size="22.1" font-weight="bold" text-anchor="end">After surgery</text>
<line x1="1256.46" y1="1068.3" x2="1256.46" y2="1081.8" stroke="#000" stroke-width="2.6"/>
<text transform="translate(1263.96 1101.3) rotate(-45) scale(1 1.01)" font-size="22.1" font-weight="bold" text-anchor="end">Course 1</text>
<line x1="1311.04" y1="1068.3" x2="1311.04" y2="1081.8" stroke="#000" stroke-width="2.6"/>
<text transform="translate(1318.54 1101.3) rotate(-45) scale(1 1.01)" font-size="22.1" font-weight="bold" text-anchor="end">Course 2</text>
<line x1="1365.62" y1="1068.3" x2="1365.62" y2="1081.8" stroke="#000" stroke-width="2.6"/>
<text transform="translate(1373.12 1101.3) rotate(-45) scale(1 1.01)" font-size="22.1" font-weight="bold" text-anchor="end">Course 3</text>
<line x1="1420.2" y1="1068.3" x2="1420.2" y2="1081.8" stroke="#000" stroke-width="2.6"/>
<text transform="translate(1427.7 1101.3) rotate(-45) scale(1 1.01)" font-size="22.1" font-weight="bold" text-anchor="end">Course 4</text>
<line x1="1474.78" y1="1068.3" x2="1474.78" y2="1081.8" stroke="#000" stroke-width="2.6"/>
<text transform="translate(1482.28 1101.3) rotate(-45) scale(1 1.01)" font-size="22.1" font-weight="bold" text-anchor="end">Course 5</text>
<line x1="1529.36" y1="1068.3" x2="1529.36" y2="1081.8" stroke="#000" stroke-width="2.6"/>
<text transform="translate(1536.86 1101.3) rotate(-45) scale(1 1.01)" font-size="22.1" font-weight="bold" text-anchor="end">Course 6</text>
<line x1="1128" y1="1038.02" x2="1549" y2="1038.02" stroke="#000" stroke-width="2.9" stroke-dasharray="0 8.75" stroke-linecap="round"/>
<polyline clip-path="url(#ltmb)" points="1147.3,859.24 1201.88,899.77" fill="none" stroke="#7d7d00" stroke-width="1.5" stroke-linejoin="round"/>
<polyline clip-path="url(#lm)" points="1201.88,899.77 1256.46,911.54 1311.04,896.43 1365.62,910.12 1420.2,912.04 1474.78,921.81 1529.36,896.93" fill="none" stroke="#7d7d00" stroke-width="1.5" stroke-linejoin="round"/>
<circle cx="1147.3" cy="859.24" r="4.4" fill="#7d7d00"/>
<circle cx="1201.88" cy="899.77" r="4.4" fill="#7d7d00"/>
<circle cx="1256.46" cy="911.54" r="4.4" fill="#7d7d00"/>
<circle cx="1311.04" cy="896.43" r="4.4" fill="#7d7d00"/>
<circle cx="1365.62" cy="910.12" r="4.4" fill="#7d7d00"/>
<circle cx="1420.2" cy="912.04" r="4.4" fill="#7d7d00"/>
<circle cx="1474.78" cy="921.81" r="4.4" fill="#7d7d00"/>
<circle cx="1529.36" cy="896.93" r="4.4" fill="#7d7d00"/>
<polyline clip-path="url(#ltmb)" points="1147.3,902.86 1201.88,990.49" fill="none" stroke="#990000" stroke-width="1.5" stroke-linejoin="round"/>
<polyline clip-path="url(#lb)" points="1201.88,990.49 1256.46,1041.62 1311.04,1053.48 1365.62,1063.11 1420.2,1060.89 1474.78,1068.3 1529.36,1059.65" fill="none" stroke="#990000" stroke-width="1.5" stroke-linejoin="round"/>
<circle cx="1147.3" cy="902.86" r="4.4" fill="#990000"/>
<circle cx="1201.88" cy="990.49" r="4.4" fill="#990000"/>
<circle cx="1256.46" cy="1041.62" r="4.4" fill="#990000"/>
<circle cx="1311.04" cy="1053.48" r="4.4" fill="#990000"/>
<circle cx="1365.62" cy="1063.11" r="4.4" fill="#990000"/>
<circle cx="1420.2" cy="1060.89" r="4.4" fill="#990000"/>
<circle cx="1474.78" cy="1068.3" r="4.4" fill="#990000"/>
<circle cx="1529.36" cy="1059.65" r="4.4" fill="#990000"/>
<polyline clip-path="url(#ltmb)" points="1147.3,861.01 1201.88,911.54" fill="none" stroke="#94621e" stroke-width="1.5" stroke-linejoin="round"/>
<polyline clip-path="url(#lm)" points="1201.88,911.54 1256.46,911.54 1311.04,917.89 1365.62,919.56 1420.2,916.39 1474.78,912.71 1529.36,912.71" fill="none" stroke="#94621e" stroke-width="1.5" stroke-linejoin="round"/>
<circle cx="1147.3" cy="861.01" r="4.4" fill="#94621e"/>
<circle cx="1201.88" cy="911.54" r="4.4" fill="#94621e"/>
<circle cx="1256.46" cy="911.54" r="4.4" fill="#94621e"/>
<circle cx="1311.04" cy="917.89" r="4.4" fill="#94621e"/>
<circle cx="1365.62" cy="919.56" r="4.4" fill="#94621e"/>
<circle cx="1420.2" cy="916.39" r="4.4" fill="#94621e"/>
<circle cx="1474.78" cy="912.71" r="4.4" fill="#94621e"/>
<circle cx="1529.36" cy="912.71" r="4.4" fill="#94621e"/>
<polyline clip-path="url(#ltmb)" points="1147.3,851.7 1201.88,912.04" fill="none" stroke="#ff5c8a" stroke-width="1.5" stroke-linejoin="round"/>
<polyline clip-path="url(#lmb)" points="1201.88,912.04 1256.46,999.14" fill="none" stroke="#ff5c8a" stroke-width="1.5" stroke-linejoin="round"/>
<polyline clip-path="url(#lb)" points="1256.46,999.14 1311.04,1017.66 1365.62,1030.39 1420.2,973.45 1474.78,1026.56 1529.36,957.64" fill="none" stroke="#ff5c8a" stroke-width="1.5" stroke-linejoin="round"/>
<circle cx="1147.3" cy="851.7" r="4.4" fill="#ff5c8a"/>
<circle cx="1201.88" cy="912.04" r="4.4" fill="#ff5c8a"/>
<circle cx="1256.46" cy="999.14" r="4.4" fill="#ff5c8a"/>
<circle cx="1311.04" cy="1017.66" r="4.4" fill="#ff5c8a"/>
<circle cx="1365.62" cy="1030.39" r="4.4" fill="#ff5c8a"/>
<circle cx="1420.2" cy="973.45" r="4.4" fill="#ff5c8a"/>
<circle cx="1474.78" cy="1026.56" r="4.4" fill="#ff5c8a"/>
<circle cx="1529.36" cy="957.64" r="4.4" fill="#ff5c8a"/>
<polyline clip-path="url(#ltmb)" points="1147.3,913.97 1201.88,1006.55" fill="none" stroke="#f548d8" stroke-width="1.5" stroke-linejoin="round"/>
<polyline clip-path="url(#lb)" points="1201.88,1006.55 1256.46,1031.87 1311.04,1042.37 1365.62,1044.46 1420.2,1051.01 1474.78,1051.01 1529.36,1048.54" fill="none" stroke="#f548d8" stroke-width="1.5" stroke-linejoin="round"/>
<circle cx="1147.3" cy="913.97" r="4.4" fill="#f548d8"/>
<circle cx="1201.88" cy="1006.55" r="4.4" fill="#f548d8"/>
<circle cx="1256.46" cy="1031.87" r="4.4" fill="#f548d8"/>
<circle cx="1311.04" cy="1042.37" r="4.4" fill="#f548d8"/>
<circle cx="1365.62" cy="1044.46" r="4.4" fill="#f548d8"/>
<circle cx="1420.2" cy="1051.01" r="4.4" fill="#f548d8"/>
<circle cx="1474.78" cy="1051.01" r="4.4" fill="#f548d8"/>
<circle cx="1529.36" cy="1048.54" r="4.4" fill="#f548d8"/>
<polyline clip-path="url(#ltmb)" points="1147.3,919.56 1201.88,913.97" fill="none" stroke="#b050d8" stroke-width="1.5" stroke-linejoin="round"/>
<polyline clip-path="url(#lm)" points="1201.88,913.97 1256.46,913.3 1311.04,915.38" fill="none" stroke="#b050d8" stroke-width="1.5" stroke-linejoin="round"/>
<polyline clip-path="url(#lmb)" points="1311.04,915.38 1365.62,1012.72" fill="none" stroke="#b050d8" stroke-width="1.5" stroke-linejoin="round"/>
<polyline clip-path="url(#lb)" points="1365.62,1012.72 1420.2,1050.39 1474.78,1054.1 1529.36,1057.18" fill="none" stroke="#b050d8" stroke-width="1.5" stroke-linejoin="round"/>
<circle cx="1147.3" cy="919.56" r="4.4" fill="#b050d8"/>
<circle cx="1201.88" cy="913.97" r="4.4" fill="#b050d8"/>
<circle cx="1256.46" cy="913.3" r="4.4" fill="#b050d8"/>
<circle cx="1311.04" cy="915.38" r="4.4" fill="#b050d8"/>
<circle cx="1365.62" cy="1012.72" r="4.4" fill="#b050d8"/>
<circle cx="1420.2" cy="1050.39" r="4.4" fill="#b050d8"/>
<circle cx="1474.78" cy="1054.1" r="4.4" fill="#b050d8"/>
<circle cx="1529.36" cy="1057.18" r="4.4" fill="#b050d8"/>
<polyline clip-path="url(#ltmb)" points="1147.3,850.38 1201.88,909.71" fill="none" stroke="#4d4dff" stroke-width="1.5" stroke-linejoin="round"/>
<polyline clip-path="url(#lm)" points="1201.88,909.71 1256.46,922.82" fill="none" stroke="#4d4dff" stroke-width="1.5" stroke-linejoin="round"/>
<polyline clip-path="url(#lmb)" points="1256.46,922.82 1311.04,1010.25" fill="none" stroke="#4d4dff" stroke-width="1.5" stroke-linejoin="round"/>
<polyline clip-path="url(#lb)" points="1311.04,1010.25 1365.62,1020.38 1420.2,1029.15 1474.78,1033.84 1529.36,1033.47" fill="none" stroke="#4d4dff" stroke-width="1.5" stroke-linejoin="round"/>
<circle cx="1147.3" cy="850.38" r="4.4" fill="#4d4dff"/>
<circle cx="1201.88" cy="909.71" r="4.4" fill="#4d4dff"/>
<circle cx="1256.46" cy="922.82" r="4.4" fill="#4d4dff"/>
<circle cx="1311.04" cy="1010.25" r="4.4" fill="#4d4dff"/>
<circle cx="1365.62" cy="1020.38" r="4.4" fill="#4d4dff"/>
<circle cx="1420.2" cy="1029.15" r="4.4" fill="#4d4dff"/>
<circle cx="1474.78" cy="1033.84" r="4.4" fill="#4d4dff"/>
<circle cx="1529.36" cy="1033.47" r="4.4" fill="#4d4dff"/>
<polyline clip-path="url(#ltmb)" points="1147.3,920.56 1201.88,1046.69" fill="none" stroke="#4d9fff" stroke-width="1.5" stroke-linejoin="round"/>
<polyline clip-path="url(#lb)" points="1201.88,1046.69 1256.46,1059.16 1311.04,1059.65 1365.62,1049.03 1420.2,1058.42 1474.78,1060.89 1529.36,1064.6" fill="none" stroke="#4d9fff" stroke-width="1.5" stroke-linejoin="round"/>
<circle cx="1147.3" cy="920.56" r="4.4" fill="#4d9fff"/>
<circle cx="1201.88" cy="1046.69" r="4.4" fill="#4d9fff"/>
<circle cx="1256.46" cy="1059.16" r="4.4" fill="#4d9fff"/>
<circle cx="1311.04" cy="1059.65" r="4.4" fill="#4d9fff"/>
<circle cx="1365.62" cy="1049.03" r="4.4" fill="#4d9fff"/>
<circle cx="1420.2" cy="1058.42" r="4.4" fill="#4d9fff"/>
<circle cx="1474.78" cy="1060.89" r="4.4" fill="#4d9fff"/>
<circle cx="1529.36" cy="1064.6" r="4.4" fill="#4d9fff"/>
<polyline clip-path="url(#ltmb)" points="1147.3,855.47 1201.88,922.06" fill="none" stroke="#c46210" stroke-width="1.5" stroke-linejoin="round"/>
<polyline clip-path="url(#lmb)" points="1201.88,922.06 1256.46,1050.15" fill="none" stroke="#c46210" stroke-width="1.5" stroke-linejoin="round"/>
<polyline clip-path="url(#lb)" points="1256.46,1050.15 1311.04,1057.18 1365.62,1059.65 1420.2,1060.52 1474.78,1062.12 1529.36,1060.89" fill="none" stroke="#c46210" stroke-width="1.5" stroke-linejoin="round"/>
<circle cx="1147.3" cy="855.47" r="4.4" fill="#c46210"/>
<circle cx="1201.88" cy="922.06" r="4.4" fill="#c46210"/>
<circle cx="1256.46" cy="1050.15" r="4.4" fill="#c46210"/>
<circle cx="1311.04" cy="1057.18" r="4.4" fill="#c46210"/>
<circle cx="1365.62" cy="1059.65" r="4.4" fill="#c46210"/>
<circle cx="1420.2" cy="1060.52" r="4.4" fill="#c46210"/>
<circle cx="1474.78" cy="1062.12" r="4.4" fill="#c46210"/>
<circle cx="1529.36" cy="1060.89" r="4.4" fill="#c46210"/>
<polyline clip-path="url(#ltmb)" points="1147.3,788.34 1201.88,854.81" fill="none" stroke="#40ebaa" stroke-width="1.5" stroke-linejoin="round"/>
<polyline clip-path="url(#ltb)" points="1201.88,854.81 1256.46,974.44" fill="none" stroke="#40ebaa" stroke-width="1.5" stroke-linejoin="round"/>
<polyline clip-path="url(#lb)" points="1256.46,974.44 1311.04,1004.08 1365.62,1035.57 1420.2,1049.28 1474.78,1055.95 1529.36,1058.79" fill="none" stroke="#40ebaa" stroke-width="1.5" stroke-linejoin="round"/>
<circle cx="1147.3" cy="788.34" r="4.4" fill="#40ebaa"/>
<circle cx="1201.88" cy="854.81" r="4.4" fill="#40ebaa"/>
<circle cx="1256.46" cy="974.44" r="4.4" fill="#40ebaa"/>
<circle cx="1311.04" cy="1004.08" r="4.4" fill="#40ebaa"/>
<circle cx="1365.62" cy="1035.57" r="4.4" fill="#40ebaa"/>
<circle cx="1420.2" cy="1049.28" r="4.4" fill="#40ebaa"/>
<circle cx="1474.78" cy="1055.95" r="4.4" fill="#40ebaa"/>
<circle cx="1529.36" cy="1058.79" r="4.4" fill="#40ebaa"/>
<polyline clip-path="url(#ltmb)" points="1147.3,847.41 1201.88,969.5" fill="none" stroke="#00ff00" stroke-width="1.5" stroke-linejoin="round"/>
<polyline clip-path="url(#lmb)" points="1201.88,969.5 1256.46,921.23 1311.04,1031.25" fill="none" stroke="#00ff00" stroke-width="1.5" stroke-linejoin="round"/>
<polyline clip-path="url(#lb)" points="1311.04,1031.25 1365.62,1046.07 1420.2,1054.47 1474.78,1054.1 1529.36,1054.1" fill="none" stroke="#00ff00" stroke-width="1.5" stroke-linejoin="round"/>
<circle cx="1147.3" cy="847.41" r="4.4" fill="#00ff00"/>
<circle cx="1201.88" cy="969.5" r="4.4" fill="#00ff00"/>
<circle cx="1256.46" cy="921.23" r="4.4" fill="#00ff00"/>
<circle cx="1311.04" cy="1031.25" r="4.4" fill="#00ff00"/>
<circle cx="1365.62" cy="1046.07" r="4.4" fill="#00ff00"/>
<circle cx="1420.2" cy="1054.47" r="4.4" fill="#00ff00"/>
<circle cx="1474.78" cy="1054.1" r="4.4" fill="#00ff00"/>
<circle cx="1529.36" cy="1054.1" r="4.4" fill="#00ff00"/>
<polyline clip-path="url(#ltmb)" points="1147.3,724.53 1201.88,865.22" fill="none" stroke="#bfba10" stroke-width="1.5" stroke-linejoin="round"/>
<polyline clip-path="url(#ltb)" points="1201.88,865.22 1256.46,1024.46" fill="none" stroke="#bfba10" stroke-width="1.5" stroke-linejoin="round"/>
<polyline clip-path="url(#lb)" points="1256.46,1024.46 1311.04,1052.24 1365.62,1044.84 1420.2,1060.52 1474.78,1060.89 1529.36,1043.35" fill="none" stroke="#bfba10" stroke-width="1.5" stroke-linejoin="round"/>
<circle cx="1147.3" cy="724.53" r="4.4" fill="#bfba10"/>
<circle cx="1201.88" cy="865.22" r="4.4" fill="#bfba10"/>
<circle cx="1256.46" cy="1024.46" r="4.4" fill="#bfba10"/>
<circle cx="1311.04" cy="1052.24" r="4.4" fill="#bfba10"/>
<circle cx="1365.62" cy="1044.84" r="4.4" fill="#bfba10"/>
<circle cx="1420.2" cy="1060.52" r="4.4" fill="#bfba10"/>
<circle cx="1474.78" cy="1060.89" r="4.4" fill="#bfba10"/>
<circle cx="1529.36" cy="1043.35" r="4.4" fill="#bfba10"/>
<polyline clip-path="url(#ltmb)" points="1147.3,845.94 1201.88,913.3" fill="none" stroke="#ff9940" stroke-width="1.5" stroke-linejoin="round"/>
<polyline clip-path="url(#lmb)" points="1201.88,913.3 1256.46,1001.61" fill="none" stroke="#ff9940" stroke-width="1.5" stroke-linejoin="round"/>
<polyline clip-path="url(#lb)" points="1256.46,1001.61 1311.04,1001.61 1365.62,1044.46 1420.2,1060.52 1474.78,1060.89 1529.36,1050.15" fill="none" stroke="#ff9940" stroke-width="1.5" stroke-linejoin="round"/>
<circle cx="1147.3" cy="845.94" r="4.4" fill="#ff9940"/>
<circle cx="1201.88" cy="913.3" r="4.4" fill="#ff9940"/>
<circle cx="1256.46" cy="1001.61" r="4.4" fill="#ff9940"/>
<circle cx="1311.04" cy="1001.61" r="4.4" fill="#ff9940"/>
<circle cx="1365.62" cy="1044.46" r="4.4" fill="#ff9940"/>
<circle cx="1420.2" cy="1060.52" r="4.4" fill="#ff9940"/>
<circle cx="1474.78" cy="1060.89" r="4.4" fill="#ff9940"/>
<circle cx="1529.36" cy="1050.15" r="4.4" fill="#ff9940"/>
<polyline clip-path="url(#ltmb)" points="1147.3,841.96 1201.88,913.97" fill="none" stroke="#ff8080" stroke-width="1.5" stroke-linejoin="round"/>
<polyline clip-path="url(#lm)" points="1201.88,913.97 1256.46,916.39" fill="none" stroke="#ff8080" stroke-width="1.5" stroke-linejoin="round"/>
<polyline clip-path="url(#lmb)" points="1256.46,916.39 1311.04,963.94" fill="none" stroke="#ff8080" stroke-width="1.5" stroke-linejoin="round"/>
<polyline clip-path="url(#lb)" points="1311.04,963.94 1365.62,981.36 1420.2,979.87 1474.78,993.34 1529.36,1039.52" fill="none" stroke="#ff8080" stroke-width="1.5" stroke-linejoin="round"/>
<circle cx="1147.3" cy="841.96" r="4.4" fill="#ff8080"/>
<circle cx="1201.88" cy="913.97" r="4.4" fill="#ff8080"/>
<circle cx="1256.46" cy="916.39" r="4.4" fill="#ff8080"/>
<circle cx="1311.04" cy="963.94" r="4.4" fill="#ff8080"/>
<circle cx="1365.62" cy="981.36" r="4.4" fill="#ff8080"/>
<circle cx="1420.2" cy="979.87" r="4.4" fill="#ff8080"/>
<circle cx="1474.78" cy="993.34" r="4.4" fill="#ff8080"/>
<circle cx="1529.36" cy="1039.52" r="4.4" fill="#ff8080"/>
<polyline clip-path="url(#ltmb)" points="1147.3,836.73 1201.88,994.2" fill="none" stroke="#8b7d3a" stroke-width="1.5" stroke-linejoin="round"/>
<polyline clip-path="url(#lb)" points="1201.88,994.2 1256.46,1041.62 1311.04,1054.71 1365.62,1059.65 1420.2,1060.52 1474.78,1063.98 1529.36,1064.84" fill="none" stroke="#8b7d3a" stroke-width="1.5" stroke-linejoin="round"/>
<circle cx="1147.3" cy="836.73" r="4.4" fill="#8b7d3a"/>
<circle cx="1201.88" cy="994.2" r="4.4" fill="#8b7d3a"/>
<circle cx="1256.46" cy="1041.62" r="4.4" fill="#8b7d3a"/>
<circle cx="1311.04" cy="1054.71" r="4.4" fill="#8b7d3a"/>
<circle cx="1365.62" cy="1059.65" r="4.4" fill="#8b7d3a"/>
<circle cx="1420.2" cy="1060.52" r="4.4" fill="#8b7d3a"/>
<circle cx="1474.78" cy="1063.98" r="4.4" fill="#8b7d3a"/>
<circle cx="1529.36" cy="1064.84" r="4.4" fill="#8b7d3a"/>
<polyline clip-path="url(#ltmb)" points="1147.3,893.67 1201.88,920.56" fill="none" stroke="#808080" stroke-width="1.5" stroke-linejoin="round"/>
<polyline clip-path="url(#lmb)" points="1201.88,920.56 1256.46,948.75" fill="none" stroke="#808080" stroke-width="1.5" stroke-linejoin="round"/>
<polyline clip-path="url(#lb)" points="1256.46,948.75 1311.04,985.55 1365.62,992.84 1420.2,1016.92 1474.78,1020.38 1529.36,1020.38" fill="none" stroke="#808080" stroke-width="1.5" stroke-linejoin="round"/>
<circle cx="1147.3" cy="893.67" r="4.4" fill="#808080"/>
<circle cx="1201.88" cy="920.56" r="4.4" fill="#808080"/>
<circle cx="1256.46" cy="948.75" r="4.4" fill="#808080"/>
<circle cx="1311.04" cy="985.55" r="4.4" fill="#808080"/>
<circle cx="1365.62" cy="992.84" r="4.4" fill="#808080"/>
<circle cx="1420.2" cy="1016.92" r="4.4" fill="#808080"/>
<circle cx="1474.78" cy="1020.38" r="4.4" fill="#808080"/>
<circle cx="1529.36" cy="1020.38" r="4.4" fill="#808080"/>
<line x1="1566.3" y1="732.9" x2="1597.4" y2="732.9" stroke="#808080" stroke-width="1.6"/>
<circle cx="1581.8" cy="732.9" r="4.5" fill="#808080"/>
<text transform="translate(1615.3 741.1) scale(1 1.04)" font-size="22.7" font-weight="normal" text-anchor="start" fill="#000">1</text>
<line x1="1566.3" y1="772.1" x2="1597.4" y2="772.1" stroke="#8b7d3a" stroke-width="1.6"/>
<circle cx="1581.8" cy="772.1" r="4.5" fill="#8b7d3a"/>
<text transform="translate(1615.3 780.3) scale(1 1.04)" font-size="22.7" font-weight="normal" text-anchor="start" fill="#000">2</text>
<line x1="1566.3" y1="811.4" x2="1597.4" y2="811.4" stroke="#ff8080" stroke-width="1.6"/>
<circle cx="1581.8" cy="811.4" r="4.5" fill="#ff8080"/>
<text transform="translate(1615.3 819.6) scale(1 1.04)" font-size="22.7" font-weight="normal" text-anchor="start" fill="#000">7</text>
<line x1="1566.3" y1="850.5" x2="1597.4" y2="850.5" stroke="#ff9940" stroke-width="1.6"/>
<circle cx="1581.8" cy="850.5" r="4.5" fill="#ff9940"/>
<text transform="translate(1615.3 858.7) scale(1 1.04)" font-size="22.7" font-weight="normal" text-anchor="start" fill="#000">12</text>
<line x1="1566.3" y1="890.1" x2="1597.4" y2="890.1" stroke="#bfba10" stroke-width="1.6"/>
<circle cx="1581.8" cy="890.1" r="4.5" fill="#bfba10"/>
<text transform="translate(1615.3 898.3) scale(1 1.04)" font-size="22.7" font-weight="normal" text-anchor="start" fill="#000">13</text>
<line x1="1566.3" y1="929.2" x2="1597.4" y2="929.2" stroke="#00ff00" stroke-width="1.6"/>
<circle cx="1581.8" cy="929.2" r="4.5" fill="#00ff00"/>
<text transform="translate(1615.3 937.4) scale(1 1.04)" font-size="22.7" font-weight="normal" text-anchor="start" fill="#000">16</text>
<line x1="1566.3" y1="968.3" x2="1597.4" y2="968.3" stroke="#40ebaa" stroke-width="1.6"/>
<circle cx="1581.8" cy="968.3" r="4.5" fill="#40ebaa"/>
<text transform="translate(1615.3 976.5) scale(1 1.04)" font-size="22.7" font-weight="normal" text-anchor="start" fill="#000">19</text>
<line x1="1566.3" y1="1007.9" x2="1597.4" y2="1007.9" stroke="#c46210" stroke-width="1.6"/>
<circle cx="1581.8" cy="1007.9" r="4.5" fill="#c46210"/>
<text transform="translate(1615.3 1016.1) scale(1 1.04)" font-size="22.7" font-weight="normal" text-anchor="start" fill="#000">34</text>
<line x1="1659.1" y1="732.9" x2="1690" y2="732.9" stroke="#4d9fff" stroke-width="1.6"/>
<circle cx="1674.5" cy="732.9" r="4.5" fill="#4d9fff"/>
<text transform="translate(1707.5 741.1) scale(1 1.04)" font-size="22.7" font-weight="normal" text-anchor="start" fill="#000">20</text>
<line x1="1659.1" y1="772.1" x2="1690" y2="772.1" stroke="#4d4dff" stroke-width="1.6"/>
<circle cx="1674.5" cy="772.1" r="4.5" fill="#4d4dff"/>
<text transform="translate(1707.5 780.3) scale(1 1.04)" font-size="22.7" font-weight="normal" text-anchor="start" fill="#000">27</text>
<line x1="1659.1" y1="811.4" x2="1690" y2="811.4" stroke="#b050d8" stroke-width="1.6"/>
<circle cx="1674.5" cy="811.4" r="4.5" fill="#b050d8"/>
<text transform="translate(1707.5 819.6) scale(1 1.04)" font-size="22.7" font-weight="normal" text-anchor="start" fill="#000">28</text>
<line x1="1659.1" y1="850.5" x2="1690" y2="850.5" stroke="#f548d8" stroke-width="1.6"/>
<circle cx="1674.5" cy="850.5" r="4.5" fill="#f548d8"/>
<text transform="translate(1707.5 858.7) scale(1 1.04)" font-size="22.7" font-weight="normal" text-anchor="start" fill="#000">29</text>
<line x1="1659.1" y1="890.1" x2="1690" y2="890.1" stroke="#ff5c8a" stroke-width="1.6"/>
<circle cx="1674.5" cy="890.1" r="4.5" fill="#ff5c8a"/>
<text transform="translate(1707.5 898.3) scale(1 1.04)" font-size="22.7" font-weight="normal" text-anchor="start" fill="#000">31</text>
<line x1="1659.1" y1="929.2" x2="1690" y2="929.2" stroke="#94621e" stroke-width="1.6"/>
<circle cx="1674.5" cy="929.2" r="4.5" fill="#94621e"/>
<text transform="translate(1707.5 937.4) scale(1 1.04)" font-size="22.7" font-weight="normal" text-anchor="start" fill="#000">32</text>
<line x1="1659.1" y1="968.3" x2="1690" y2="968.3" stroke="#990000" stroke-width="1.6"/>
<circle cx="1674.5" cy="968.3" r="4.5" fill="#990000"/>
<text transform="translate(1707.5 976.5) scale(1 1.04)" font-size="22.7" font-weight="normal" text-anchor="start" fill="#000">33</text>
<line x1="1660.4" y1="1007.2" x2="1691.3" y2="1007.2" stroke="#7d7d00" stroke-width="1.6"/>
<circle cx="1675.8" cy="1007.2" r="4.5" fill="#7d7d00"/>
<text transform="translate(1709 1015.4) scale(1 1.04)" font-size="22.7" font-weight="normal" text-anchor="start" fill="#000">35</text>
</g>
<g id="panel-c">
<text transform="translate(-2.3 1285.8) scale(1 1)" font-size="74" font-weight="bold" text-anchor="start" fill="#000">c</text>
<text transform="translate(284.3 1337.2) scale(1 1.01)" font-size="28.8" font-weight="bold" text-anchor="middle" fill="#000" textLength="456" lengthAdjust="spacingAndGlyphs">After surgery and chemotherapy</text>
<rect x="201.1" y="1380.7" width="65.7" height="304.9" fill="#7ea0d6"/>
<path d="M202.25 1685.6V1381.85H265.65V1685.6" fill="none" stroke="#285292" stroke-width="4.3"/>
<rect x="303" y="1380.7" width="66" height="82.3" fill="#a78bd4"/>
<path d="M304.15 1463V1381.85H367.85V1463" fill="none" stroke="#4e2a8e" stroke-width="4.3"/>
<rect x="303" y="1460.1" width="66" height="225.5" fill="#7ea0d6"/>
<path d="M304.3 1685.6V1461.4H367.7V1685.6" fill="none" stroke="#285292" stroke-width="4.6"/>
<line x1="166" y1="1378.4" x2="166" y2="1687.3" stroke="#000" stroke-width="3.4"/>
<line x1="153.2" y1="1685.6" x2="404.5" y2="1685.6" stroke="#000" stroke-width="3.4"/>
<line x1="153.2" y1="1380.1" x2="166" y2="1380.1" stroke="#000" stroke-width="3.4"/>
<text transform="translate(149.6 1388.5) scale(1 1.04)" font-size="24" font-weight="bold" text-anchor="end" fill="#000">100</text>
<line x1="153.2" y1="1441.2" x2="166" y2="1441.2" stroke="#000" stroke-width="3.4"/>
<text transform="translate(149.6 1449.6) scale(1 1.04)" font-size="24" font-weight="bold" text-anchor="end" fill="#000">80</text>
<line x1="153.2" y1="1502.3" x2="166" y2="1502.3" stroke="#000" stroke-width="3.4"/>
<text transform="translate(149.6 1510.7) scale(1 1.04)" font-size="24" font-weight="bold" text-anchor="end" fill="#000">60</text>
<line x1="153.2" y1="1563.4" x2="166" y2="1563.4" stroke="#000" stroke-width="3.4"/>
<text transform="translate(149.6 1571.8) scale(1 1.04)" font-size="24" font-weight="bold" text-anchor="end" fill="#000">40</text>
<line x1="153.2" y1="1624.5" x2="166" y2="1624.5" stroke="#000" stroke-width="3.4"/>
<text transform="translate(149.6 1632.9) scale(1 1.04)" font-size="24" font-weight="bold" text-anchor="end" fill="#000">20</text>
<line x1="153.2" y1="1685.6" x2="166" y2="1685.6" stroke="#000" stroke-width="3.4"/>
<text transform="translate(149.6 1694) scale(1 1.04)" font-size="24" font-weight="bold" text-anchor="end" fill="#000">0</text>
<line x1="233.4" y1="1685.6" x2="233.4" y2="1699.1" stroke="#000" stroke-width="3.4"/>
<text transform="translate(240.1 1719.9) rotate(-45) scale(1 1.01)" font-size="23.5" font-weight="bold" text-anchor="end">High MTES</text>
<line x1="335" y1="1685.6" x2="335" y2="1699.1" stroke="#000" stroke-width="3.4"/>
<text transform="translate(337.5 1724.6) rotate(-45) scale(1 1.01)" font-size="23.5" font-weight="bold" text-anchor="end">Low MTES</text>
<text transform="translate(93.5 1531.7) rotate(-90) scale(1 1.01)" font-size="25.4" font-weight="bold" text-anchor="middle">Proportion(%)</text>
<text transform="translate(233.5 1535.3) scale(1 1.04)" font-size="19.2" font-weight="normal" text-anchor="middle" fill="#000">15</text>
<text transform="translate(233.1 1557.6) scale(1 1.04)" font-size="19.2" font-weight="normal" text-anchor="middle" fill="#000">(100%)</text>
<text transform="translate(335.2 1587.9) scale(1 1.04)" font-size="19.2" font-weight="normal" text-anchor="middle" fill="#000">12</text>
<text transform="translate(335.5 1609.8) scale(1 1.04)" font-size="19.2" font-weight="normal" text-anchor="middle" fill="#000">(75%)</text>
<text transform="translate(336.3 1421) scale(1 1.04)" font-size="19.2" font-weight="normal" text-anchor="middle" fill="#000">4</text>
<text transform="translate(337 1443.3) scale(1 1.04)" font-size="19.2" font-weight="normal" text-anchor="middle" fill="#000">(25%)</text>
<rect x="397.7" y="1397.3" width="32.8" height="11.9" fill="#4e2a8e"/>
<line x1="402.2" y1="1403.15" x2="425.8" y2="1403.15" stroke="#a78bd4" stroke-width="2.3"/>
<rect x="397.7" y="1483.1" width="32.8" height="11.9" fill="#285292"/>
<line x1="402.2" y1="1488.95" x2="425.8" y2="1488.95" stroke="#7ea0d6" stroke-width="2.3"/>
<text transform="translate(448.6 1398.6) scale(1 1.04)" font-size="21.2" font-weight="normal" text-anchor="start" fill="#000">CA125</text>
<text transform="translate(449.2 1426.2) scale(1 1.04)" font-size="30" font-weight="normal" text-anchor="start" fill="#000">&gt;</text>
<text transform="translate(467.5 1422.8) scale(1 1.04)" font-size="21.6" font-weight="normal" text-anchor="start" fill="#000">25 U/L</text>
<text transform="translate(448.6 1484.4) scale(1 1.04)" font-size="21.2" font-weight="normal" text-anchor="start" fill="#000">CA125</text>
<text transform="translate(449.8 1512) scale(1 1.04)" font-size="30" font-weight="normal" text-anchor="start" fill="#000">&lt;</text>
<text transform="translate(467.5 1508.9) scale(1 1.04)" font-size="21.6" font-weight="normal" text-anchor="start" fill="#000">25 U/L</text>
</g>
<g id="panel-d">
<text transform="translate(530 1288.6) scale(1 1)" font-size="73" font-weight="bold" text-anchor="start" fill="#000">d</text>
<path d="M712 1659.7V1390.2H767.5V1659.7" fill="#fff" stroke="#285292" stroke-width="4.6"/>
<path d="M802.4 1659.7V1430.6H857.4V1659.7" fill="#fff" stroke="#4e2a8e" stroke-width="4.6"/>
<line x1="739.5" y1="1347.5" x2="739.5" y2="1388" stroke="#285292" stroke-width="1.5"/>
<line x1="724.9" y1="1347.5" x2="754.1" y2="1347.5" stroke="#285292" stroke-width="1.5"/>
<line x1="829.5" y1="1361.2" x2="829.5" y2="1429" stroke="#4e2a8e" stroke-width="1.5"/>
<line x1="814.5" y1="1361.2" x2="844.5" y2="1361.2" stroke="#4e2a8e" stroke-width="1.5"/>
<line x1="679.7" y1="1343.15" x2="679.7" y2="1661.35" stroke="#000" stroke-width="3.3"/>
<line x1="666.9" y1="1659.7" x2="891.9" y2="1659.7" stroke="#000" stroke-width="3.3"/>
<line x1="666.9" y1="1344.8" x2="679.7" y2="1344.8" stroke="#000" stroke-width="3.3"/>
<text transform="translate(663.3 1353.3) scale(1 1.04)" font-size="24" font-weight="bold" text-anchor="end" fill="#000">1.0</text>
<line x1="666.9" y1="1502.2" x2="679.7" y2="1502.2" stroke="#000" stroke-width="3.3"/>
<text transform="translate(663.3 1510.7) scale(1 1.04)" font-size="24" font-weight="bold" text-anchor="end" fill="#000">0.5</text>
<line x1="666.9" y1="1659.7" x2="679.7" y2="1659.7" stroke="#000" stroke-width="3.3"/>
<text transform="translate(663.3 1668.2) scale(1 1.04)" font-size="24" font-weight="bold" text-anchor="end" fill="#000">0.0</text>
<line x1="739.2" y1="1659.7" x2="739.2" y2="1673.2" stroke="#000" stroke-width="3.3"/>
<text transform="translate(740.9 1699.6) rotate(-45) scale(1 1.01)" font-size="23.7" font-weight="bold" text-anchor="end">High MTES</text>
<line x1="829.5" y1="1659.7" x2="829.5" y2="1673.2" stroke="#000" stroke-width="3.3"/>
<text transform="translate(835.9 1694.6) rotate(-45) scale(1 1.01)" font-size="23.7" font-weight="bold" text-anchor="end">Low MTES</text>
<circle cx="720.6" cy="1351.2" r="4.5" fill="#000"/>
<circle cx="733.3" cy="1352.2" r="4.5" fill="#000"/>
<circle cx="745.9" cy="1351.2" r="4.5" fill="#000"/>
<circle cx="758.5" cy="1347.8" r="4.5" fill="#000"/>
<circle cx="758.5" cy="1356.7" r="4.5" fill="#000"/>
<circle cx="733.3" cy="1361" r="4.5" fill="#000"/>
<circle cx="745.9" cy="1360.7" r="4.5" fill="#000"/>
<circle cx="733.3" cy="1369" r="4.5" fill="#000"/>
<circle cx="745.9" cy="1369" r="4.5" fill="#000"/>
<circle cx="733.3" cy="1377.6" r="4.5" fill="#000"/>
<circle cx="745.9" cy="1381" r="4.5" fill="#000"/>
<circle cx="720.6" cy="1383.9" r="4.5" fill="#000"/>
<circle cx="733.3" cy="1387.3" r="4.5" fill="#000"/>
<circle cx="739.5" cy="1415.9" r="4.5" fill="#000"/>
<circle cx="739.3" cy="1655.2" r="4.5" fill="#000"/>
<circle cx="829.4" cy="1361" r="4.5" fill="#000"/>
<circle cx="829.4" cy="1370.5" r="4.5" fill="#000"/>
<circle cx="842.3" cy="1388.2" r="4.5" fill="#000"/>
<circle cx="816.8" cy="1391.9" r="4.5" fill="#000"/>
<circle cx="829.4" cy="1394" r="4.5" fill="#000"/>
<circle cx="842.3" cy="1397" r="4.5" fill="#000"/>
<circle cx="816.8" cy="1403.1" r="4.5" fill="#000"/>
<circle cx="829.4" cy="1402" r="4.5" fill="#000"/>
<circle cx="829.4" cy="1410.2" r="4.5" fill="#000"/>
<circle cx="829.4" cy="1420.7" r="4.5" fill="#000"/>
<circle cx="829.4" cy="1430.2" r="4.5" fill="#000"/>
<circle cx="829.4" cy="1439.2" r="4.5" fill="#000"/>
<circle cx="829.4" cy="1454.9" r="4.5" fill="#000"/>
<circle cx="829.4" cy="1461.5" r="4.5" fill="#000"/>
<circle cx="829.4" cy="1470.5" r="4.5" fill="#000"/>
<circle cx="829.6" cy="1656.5" r="4.5" fill="#000"/>
<text transform="translate(735.6 1325.7) scale(1 1.04)" font-size="25" font-weight="bold"><tspan font-style="italic">P</tspan>=0.001</text>
<line x1="737.9" y1="1337.2" x2="829.7" y2="1337.2" stroke="#000" stroke-width="1.8"/>
<line x1="737.9" y1="1332.5" x2="737.9" y2="1341.9" stroke="#000" stroke-width="1.8"/>
<line x1="829.7" y1="1332.5" x2="829.7" y2="1341.9" stroke="#000" stroke-width="1.8"/>
<text transform="translate(582.4 1501.3) rotate(-90) scale(1 1.01)" font-size="25.95" font-weight="bold" text-anchor="middle">CA125 remission rate after</text>
<text transform="translate(615.6 1499) rotate(-90) scale(1 1)" font-size="25.7" font-weight="bold" text-anchor="middle">surgery(%)</text>
<path d="M1137.6 1650.3V1338.6H1193.8V1650.3" fill="#fff" stroke="#285292" stroke-width="4.6"/>
<path d="M1229.4 1650.3V1359.3H1284.8V1650.3" fill="#fff" stroke="#4e2a8e" stroke-width="4.6"/>
<line x1="1165.8" y1="1331.6" x2="1165.8" y2="1337" stroke="#285292" stroke-width="1.5"/>
<line x1="1151.2" y1="1331.6" x2="1180.4" y2="1331.6" stroke="#285292" stroke-width="1.5"/>
<line x1="1256.9" y1="1332.4" x2="1256.9" y2="1358" stroke="#4e2a8e" stroke-width="1.5"/>
<line x1="1242.9" y1="1332.4" x2="1270.9" y2="1332.4" stroke="#4e2a8e" stroke-width="1.5"/>
<line x1="1105.9" y1="1330.75" x2="1105.9" y2="1651.95" stroke="#000" stroke-width="3.3"/>
<line x1="1091.8" y1="1650.3" x2="1318.6" y2="1650.3" stroke="#000" stroke-width="3.3"/>
<line x1="1091.8" y1="1332.4" x2="1105.9" y2="1332.4" stroke="#000" stroke-width="3.3"/>
<text transform="translate(1088.2 1340.9) scale(1 1.04)" font-size="24" font-weight="bold" text-anchor="end" fill="#000">1.0</text>
<line x1="1091.8" y1="1491.3" x2="1105.9" y2="1491.3" stroke="#000" stroke-width="3.3"/>
<text transform="translate(1088.2 1499.8) scale(1 1.04)" font-size="24" font-weight="bold" text-anchor="end" fill="#000">0.5</text>
<line x1="1091.8" y1="1650.3" x2="1105.9" y2="1650.3" stroke="#000" stroke-width="3.3"/>
<text transform="translate(1088.2 1658.8) scale(1 1.04)" font-size="24" font-weight="bold" text-anchor="end" fill="#000">0.0</text>
<line x1="1165.3" y1="1650.3" x2="1165.3" y2="1663.8" stroke="#000" stroke-width="3.3"/>
<text transform="translate(1166.7 1690.9) rotate(-45) scale(1 1.01)" font-size="23.7" font-weight="bold" text-anchor="end">High MTES</text>
<line x1="1256.6" y1="1650.3" x2="1256.6" y2="1663.8" stroke="#000" stroke-width="3.3"/>
<text transform="translate(1262.8 1685.8) rotate(-45) scale(1 1.01)" font-size="23.7" font-weight="bold" text-anchor="end">Low MTES</text>
<circle cx="1139.8" cy="1334.3" r="3" fill="#000"/>
<circle cx="1146.3" cy="1333" r="3" fill="#000"/>
<circle cx="1152.8" cy="1334.9" r="3" fill="#000"/>
<circle cx="1159.3" cy="1332.1" r="3" fill="#000"/>
<circle cx="1159.3" cy="1336.1" r="3" fill="#000"/>
<circle cx="1165.8" cy="1331.2" r="3" fill="#000"/>
<circle cx="1165.8" cy="1335.5" r="3" fill="#000"/>
<circle cx="1165.8" cy="1339.7" r="3" fill="#000"/>
<circle cx="1172.3" cy="1333.6" r="3" fill="#000"/>
<circle cx="1172.3" cy="1337.9" r="3" fill="#000"/>
<circle cx="1178.8" cy="1333.6" r="3" fill="#000"/>
<circle cx="1185.2" cy="1333" r="3" fill="#000"/>
<circle cx="1191.8" cy="1332.7" r="3" fill="#000"/>
<circle cx="1162.3" cy="1348" r="3" fill="#000"/>
<circle cx="1169.3" cy="1346.7" r="3" fill="#000"/>
<circle cx="1243.9" cy="1333.9" r="3" fill="#000"/>
<circle cx="1243.9" cy="1339.1" r="3" fill="#000"/>
<circle cx="1250.6" cy="1332.4" r="3" fill="#000"/>
<circle cx="1256.9" cy="1332.7" r="3" fill="#000"/>
<circle cx="1256.9" cy="1336.9" r="3" fill="#000"/>
<circle cx="1256.9" cy="1341.6" r="3" fill="#000"/>
<circle cx="1263.1" cy="1335.1" r="3" fill="#000"/>
<circle cx="1263.1" cy="1339.4" r="3" fill="#000"/>
<circle cx="1269.7" cy="1333.6" r="3" fill="#000"/>
<circle cx="1269.7" cy="1338.9" r="3" fill="#000"/>
<circle cx="1250.6" cy="1356.2" r="3" fill="#000"/>
<circle cx="1256.9" cy="1359.2" r="3" fill="#000"/>
<circle cx="1263.4" cy="1358.8" r="3" fill="#000"/>
<circle cx="1256.9" cy="1363.8" r="3" fill="#000"/>
<circle cx="1256.9" cy="1440.5" r="3" fill="#000"/>
<circle cx="1256.9" cy="1468.8" r="3" fill="#000"/>
<text transform="translate(1162 1296.3) scale(1 1.04)" font-size="26.1" font-weight="bold"><tspan font-style="italic">P</tspan>=0.0215</text>
<line x1="1165.6" y1="1307.7" x2="1257" y2="1307.7" stroke="#000" stroke-width="1.8"/>
<line x1="1165.6" y1="1303" x2="1165.6" y2="1312.4" stroke="#000" stroke-width="1.8"/>
<line x1="1257" y1="1303" x2="1257" y2="1312.4" stroke="#000" stroke-width="1.8"/>
<text transform="translate(1007.3 1491) rotate(-90) scale(1 1.01)" font-size="25.95" font-weight="bold" text-anchor="middle">CA125 remission rate after</text>
<text transform="translate(1040.3 1491.6) rotate(-90) scale(1 1)" font-size="25.95" font-weight="bold" text-anchor="middle">surgery and adjuvant chemotherapy%</text>
</g>
<g id="panel-e">
<text transform="translate(1329.3 1285.8) scale(1 1)" font-size="74.5" font-weight="bold" text-anchor="start" fill="#000">e</text>
<path d="M1552.8 1647.4V1640.3H1613V1647.4" fill="#fff" stroke="#285292" stroke-width="4.6"/>
<path d="M1650.3 1647.4V1584.6H1710.1V1647.4" fill="#fff" stroke="#8b178b" stroke-width="5"/>
<line x1="1582.5" y1="1631.6" x2="1582.5" y2="1639" stroke="#285292" stroke-width="1.6"/>
<line x1="1566.4" y1="1631.6" x2="1598.6" y2="1631.6" stroke="#285292" stroke-width="1.6"/>
<line x1="1679.9" y1="1515.8" x2="1679.9" y2="1583" stroke="#8b178b" stroke-width="1.7"/>
<line x1="1663.8" y1="1515.8" x2="1696" y2="1515.8" stroke="#8b178b" stroke-width="1.7"/>
<line x1="1518" y1="1305.15" x2="1518" y2="1649.25" stroke="#000" stroke-width="3.7"/>
<line x1="1503.5" y1="1647.4" x2="1747" y2="1647.4" stroke="#000" stroke-width="3.7"/>
<line x1="1503.5" y1="1307" x2="1518" y2="1307" stroke="#000" stroke-width="3.7"/>
<text transform="translate(1499.8 1316.3) scale(1 1.04)" font-size="26.2" font-weight="bold" text-anchor="end" fill="#000">150</text>
<line x1="1503.5" y1="1420.47" x2="1518" y2="1420.47" stroke="#000" stroke-width="3.7"/>
<text transform="translate(1499.8 1429.77) scale(1 1.04)" font-size="26.2" font-weight="bold" text-anchor="end" fill="#000">100</text>
<line x1="1503.5" y1="1533.93" x2="1518" y2="1533.93" stroke="#000" stroke-width="3.7"/>
<text transform="translate(1499.8 1543.23) scale(1 1.04)" font-size="26.2" font-weight="bold" text-anchor="end" fill="#000">50</text>
<line x1="1503.5" y1="1647.4" x2="1518" y2="1647.4" stroke="#000" stroke-width="3.7"/>
<text transform="translate(1499.8 1656.7) scale(1 1.04)" font-size="26.2" font-weight="bold" text-anchor="end" fill="#000">0</text>
<line x1="1582.2" y1="1647.4" x2="1582.2" y2="1661.9" stroke="#000" stroke-width="3.7"/>
<text transform="translate(1584.9 1691.1) rotate(-45) scale(1 1.01)" font-size="25.6" font-weight="bold" text-anchor="end">High MTES</text>
<line x1="1679.5" y1="1647.4" x2="1679.5" y2="1661.9" stroke="#000" stroke-width="3.7"/>
<text transform="translate(1687.6 1686.2) rotate(-45) scale(1 1.01)" font-size="25.6" font-weight="bold" text-anchor="end">Low MTES</text>
<circle cx="1579.3" cy="1627.6" r="3.4" fill="#000"/>
<circle cx="1585.9" cy="1628.4" r="3.4" fill="#000"/>
<circle cx="1593" cy="1626.2" r="3.4" fill="#000"/>
<circle cx="1565.7" cy="1638.4" r="3.4" fill="#000"/>
<circle cx="1572.5" cy="1636.9" r="3.4" fill="#000"/>
<circle cx="1579.3" cy="1636.3" r="3.4" fill="#000"/>
<circle cx="1585.9" cy="1635.3" r="3.4" fill="#000"/>
<circle cx="1593" cy="1638.4" r="3.4" fill="#000"/>
<circle cx="1599.8" cy="1637.5" r="3.4" fill="#000"/>
<circle cx="1565.7" cy="1644" r="3.4" fill="#000"/>
<circle cx="1579.3" cy="1641.5" r="3.4" fill="#000"/>
<circle cx="1579.3" cy="1644.6" r="3.4" fill="#000"/>
<circle cx="1585.9" cy="1642.7" r="3.4" fill="#000"/>
<circle cx="1593" cy="1644" r="3.4" fill="#000"/>
<circle cx="1599.8" cy="1643.4" r="3.4" fill="#000"/>
<circle cx="1679.9" cy="1400.3" r="3.4" fill="#000"/>
<circle cx="1679.9" cy="1466.9" r="3.4" fill="#000"/>
<circle cx="1679.9" cy="1540.6" r="3.4" fill="#000"/>
<circle cx="1679.9" cy="1554.3" r="3.4" fill="#000"/>
<circle cx="1679.9" cy="1573.4" r="3.4" fill="#000"/>
<circle cx="1679.9" cy="1587.1" r="3.4" fill="#000"/>
<circle cx="1679.9" cy="1591.4" r="3.4" fill="#000"/>
<circle cx="1686.9" cy="1598" r="3.4" fill="#000"/>
<circle cx="1672.9" cy="1600.7" r="3.4" fill="#000"/>
<circle cx="1679.9" cy="1601.1" r="3.4" fill="#000"/>
<circle cx="1679.9" cy="1625.1" r="3.4" fill="#000"/>
<circle cx="1672.9" cy="1632.4" r="3.4" fill="#000"/>
<circle cx="1686.9" cy="1633.4" r="3.4" fill="#000"/>
<circle cx="1679.9" cy="1635" r="3.4" fill="#000"/>
<circle cx="1683.4" cy="1638.8" r="3.4" fill="#000"/>
<circle cx="1676.6" cy="1641.7" r="3.4" fill="#000"/>
<text transform="translate(1572.2 1297.3) scale(1 1.04)" font-size="28.3" font-weight="bold" font-style="italic">P</text>
<text x="1593.0" y="1302.0" font-size="45" font-weight="normal">&lt;</text>
<text transform="translate(1620.4 1297.3) scale(1 1.04)" font-size="27.2" font-weight="normal" stroke="#000" stroke-width="0.5">0.001</text>
<line x1="1582.7" y1="1310.6" x2="1680" y2="1310.6" stroke="#000" stroke-width="2"/>
<line x1="1582.7" y1="1305.6" x2="1582.7" y2="1315.6" stroke="#000" stroke-width="2"/>
<line x1="1680" y1="1305.6" x2="1680" y2="1315.6" stroke="#000" stroke-width="2"/>
<text transform="translate(1404.9 1477.7) rotate(-90) scale(1 1.01)" font-size="28.2" font-weight="bold" text-anchor="middle">CA125 variation</text>
<text transform="translate(1438.3 1473.8) rotate(-90) scale(1 1)" font-size="28.2" font-weight="bold" text-anchor="middle">during adjuvant chemotherapy</text>
</g>
</svg>
</body>
</html>
